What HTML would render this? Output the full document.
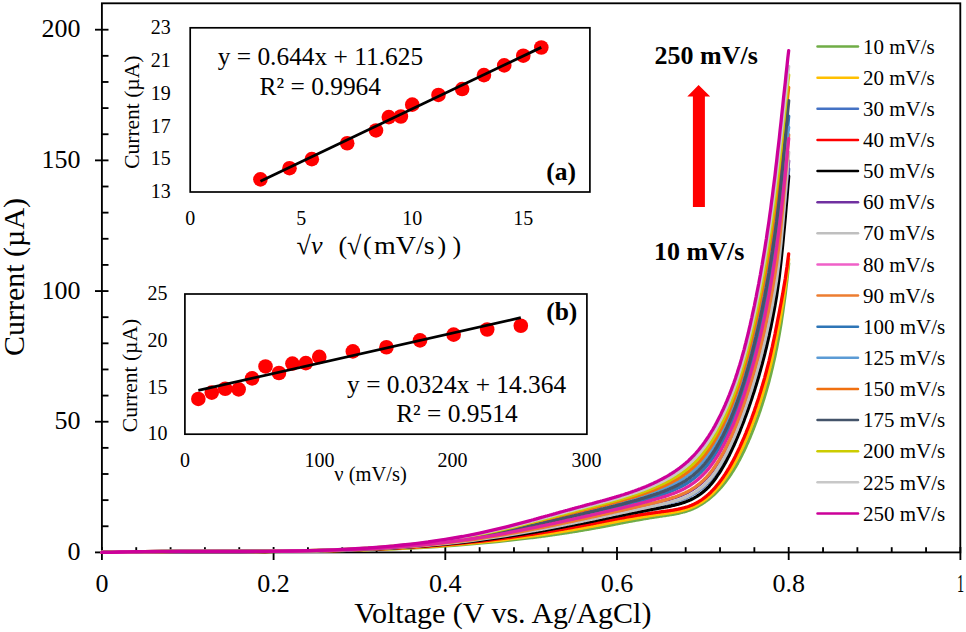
<!DOCTYPE html>
<html><head><meta charset="utf-8"><style>
html,body{margin:0;padding:0;background:#fff;width:966px;height:632px;overflow:hidden;}
svg text{font-family:"Liberation Serif",serif;}
</style></head><body>
<svg width="966" height="632" viewBox="0 0 966 632" style="position:absolute;left:0;top:0">
<rect width="966" height="632" fill="#fff"/>
<g stroke="#000" stroke-width="1.85" fill="none">
<rect x="101.90" y="3.3" width="858.40" height="549.10"/>
<line x1="95" y1="552.40" x2="108.5" y2="552.40"/>
<line x1="101.9" y1="526.26" x2="108.5" y2="526.26"/>
<line x1="101.9" y1="500.13" x2="108.5" y2="500.13"/>
<line x1="101.9" y1="474.00" x2="108.5" y2="474.00"/>
<line x1="101.9" y1="447.86" x2="108.5" y2="447.86"/>
<line x1="95" y1="421.72" x2="108.5" y2="421.72"/>
<line x1="101.9" y1="395.59" x2="108.5" y2="395.59"/>
<line x1="101.9" y1="369.45" x2="108.5" y2="369.45"/>
<line x1="101.9" y1="343.32" x2="108.5" y2="343.32"/>
<line x1="101.9" y1="317.18" x2="108.5" y2="317.18"/>
<line x1="95" y1="291.05" x2="108.5" y2="291.05"/>
<line x1="101.9" y1="264.91" x2="108.5" y2="264.91"/>
<line x1="101.9" y1="238.78" x2="108.5" y2="238.78"/>
<line x1="101.9" y1="212.64" x2="108.5" y2="212.64"/>
<line x1="101.9" y1="186.51" x2="108.5" y2="186.51"/>
<line x1="95" y1="160.37" x2="108.5" y2="160.37"/>
<line x1="101.9" y1="134.24" x2="108.5" y2="134.24"/>
<line x1="101.9" y1="108.10" x2="108.5" y2="108.10"/>
<line x1="101.9" y1="81.97" x2="108.5" y2="81.97"/>
<line x1="101.9" y1="55.83" x2="108.5" y2="55.83"/>
<line x1="95" y1="29.70" x2="108.5" y2="29.70"/>
<line x1="101.90" y1="547" x2="101.90" y2="560"/>
<line x1="136.24" y1="547.2" x2="136.24" y2="552.4"/>
<line x1="170.58" y1="547.2" x2="170.58" y2="552.4"/>
<line x1="204.92" y1="547.2" x2="204.92" y2="552.4"/>
<line x1="239.26" y1="547.2" x2="239.26" y2="552.4"/>
<line x1="273.60" y1="547" x2="273.60" y2="560"/>
<line x1="307.94" y1="547.2" x2="307.94" y2="552.4"/>
<line x1="342.28" y1="547.2" x2="342.28" y2="552.4"/>
<line x1="376.62" y1="547.2" x2="376.62" y2="552.4"/>
<line x1="410.96" y1="547.2" x2="410.96" y2="552.4"/>
<line x1="445.30" y1="547" x2="445.30" y2="560"/>
<line x1="479.64" y1="547.2" x2="479.64" y2="552.4"/>
<line x1="513.98" y1="547.2" x2="513.98" y2="552.4"/>
<line x1="548.32" y1="547.2" x2="548.32" y2="552.4"/>
<line x1="582.66" y1="547.2" x2="582.66" y2="552.4"/>
<line x1="617.00" y1="547" x2="617.00" y2="560"/>
<line x1="651.34" y1="547.2" x2="651.34" y2="552.4"/>
<line x1="685.68" y1="547.2" x2="685.68" y2="552.4"/>
<line x1="720.02" y1="547.2" x2="720.02" y2="552.4"/>
<line x1="754.36" y1="547.2" x2="754.36" y2="552.4"/>
<line x1="788.70" y1="547" x2="788.70" y2="560"/>
<line x1="823.04" y1="547.2" x2="823.04" y2="552.4"/>
<line x1="857.38" y1="547.2" x2="857.38" y2="552.4"/>
<line x1="891.72" y1="547.2" x2="891.72" y2="552.4"/>
<line x1="926.06" y1="547.2" x2="926.06" y2="552.4"/>
<line x1="960.40" y1="547" x2="960.40" y2="560"/>
</g>
<polyline points="101.9,552.4 110.5,552.2 119.1,552.1 127.7,552.1 136.2,552.0 144.8,551.9 153.4,551.9 162.0,551.9 170.6,551.8 179.2,551.8 187.8,551.8 196.3,551.8 204.9,551.7 213.5,551.7 222.1,551.7 230.7,551.7 239.3,551.6 247.8,551.6 256.4,551.6 265.0,551.5 273.6,551.5 282.2,551.4 290.8,551.3 299.4,551.2 307.9,551.1 316.5,551.0 325.1,550.8 333.7,550.6 342.3,550.5 350.9,550.2 359.5,550.0 368.0,549.7 376.6,549.4 385.2,549.1 393.8,548.8 402.4,548.4 411.0,548.0 419.5,547.5 428.1,547.0 436.7,546.5 445.3,545.9 453.9,545.3 462.5,544.6 471.1,543.9 479.6,543.2 488.2,542.4 496.8,541.6 505.4,540.7 514.0,539.7 522.6,538.7 531.1,537.7 532.0,537.6 532.9,537.5 533.7,537.4 534.6,537.3 535.4,537.1 536.3,537.0 537.2,536.9 538.0,536.8 538.9,536.7 539.7,536.6 540.6,536.5 541.5,536.4 542.3,536.2 543.2,536.1 544.0,536.0 544.9,535.9 545.7,535.8 546.6,535.7 547.5,535.5 548.3,535.4 549.2,535.3 550.0,535.2 550.9,535.1 551.8,534.9 552.6,534.8 553.5,534.7 554.3,534.6 555.2,534.4 556.0,534.3 556.9,534.2 557.8,534.1 558.6,533.9 559.5,533.8 560.3,533.7 561.2,533.6 562.1,533.4 562.9,533.3 563.8,533.2 564.6,533.0 565.5,532.9 566.3,532.8 567.2,532.6 568.1,532.5 568.9,532.4 569.8,532.2 570.6,532.1 571.5,532.0 572.4,531.8 573.2,531.7 574.1,531.6 574.9,531.4 575.8,531.3 576.7,531.1 577.5,531.0 578.4,530.9 579.2,530.7 580.1,530.6 580.9,530.4 581.8,530.3 582.7,530.1 583.5,530.0 584.4,529.8 585.2,529.7 586.1,529.5 587.0,529.4 587.8,529.3 588.7,529.1 589.5,529.0 590.4,528.8 591.2,528.6 592.1,528.5 593.0,528.3 593.8,528.2 594.7,528.0 595.5,527.9 596.4,527.7 597.3,527.6 598.1,527.4 599.0,527.3 599.8,527.1 600.7,526.9 601.5,526.8 602.4,526.6 603.3,526.5 604.1,526.3 605.0,526.1 605.8,526.0 606.7,525.8 607.6,525.6 608.4,525.5 609.3,525.3 610.1,525.1 611.0,525.0 611.8,524.8 612.7,524.6 613.6,524.5 614.4,524.3 615.3,524.2 616.1,524.0 617.0,523.8 617.9,523.7 618.7,523.5 619.6,523.3 620.4,523.2 621.3,523.0 622.2,522.8 623.0,522.7 623.9,522.5 624.7,522.3 625.6,522.2 626.4,522.0 627.3,521.8 628.2,521.7 629.0,521.5 629.9,521.3 630.7,521.2 631.6,521.0 632.5,520.9 633.3,520.7 634.2,520.5 635.0,520.4 635.9,520.2 636.7,520.1 637.6,519.9 638.5,519.8 639.3,519.6 640.2,519.5 641.0,519.3 641.9,519.1 642.8,519.0 643.6,518.8 644.5,518.7 645.3,518.6 646.2,518.4 647.0,518.3 647.9,518.1 648.8,518.0 649.6,517.8 650.5,517.7 651.3,517.6 652.2,517.4 653.1,517.3 653.9,517.1 654.8,517.0 655.6,516.9 656.5,516.8 657.3,516.6 658.2,516.5 659.1,516.4 659.9,516.2 660.8,516.1 661.6,516.0 662.5,515.9 663.4,515.7 664.2,515.6 665.1,515.5 665.9,515.4 666.8,515.2 667.7,515.1 668.5,515.0 669.4,514.8 670.2,514.7 671.1,514.6 671.9,514.4 672.8,514.3 673.7,514.1 674.5,514.0 675.4,513.8 676.2,513.6 677.1,513.5 678.0,513.3 678.8,513.1 679.7,512.9 680.5,512.7 681.4,512.5 682.2,512.3 683.1,512.0 684.0,511.8 684.8,511.6 685.7,511.3 686.5,511.1 687.4,510.8 688.3,510.5 689.1,510.2 690.0,509.9 690.8,509.6 691.7,509.2 692.5,508.9 693.4,508.5 694.3,508.1 695.1,507.7 696.0,507.3 696.8,506.8 697.7,506.4 698.6,505.9 699.4,505.4 700.3,504.9 701.1,504.4 702.0,503.8 702.9,503.3 703.7,502.7 704.6,502.1 705.4,501.5 706.3,500.9 707.1,500.3 708.0,499.6 708.9,498.9 709.7,498.2 710.6,497.5 711.4,496.8 712.3,496.0 713.2,495.3 714.0,494.5 714.9,493.7 715.7,492.8 716.6,492.0 717.4,491.1 718.3,490.2 719.2,489.3 720.0,488.3 720.9,487.4 721.7,486.4 722.6,485.4 723.5,484.3 724.3,483.3 725.2,482.2 726.0,481.0 726.9,479.9 727.7,478.7 728.6,477.5 729.5,476.3 730.3,475.0 731.2,473.7 732.0,472.4 732.9,471.1 733.8,469.7 734.6,468.3 735.5,466.8 736.3,465.4 737.2,463.9 738.0,462.3 738.9,460.7 739.8,459.1 740.6,457.5 741.5,455.8 742.3,454.1 743.2,452.3 744.1,450.5 744.9,448.7 745.8,446.8 746.6,444.9 747.5,443.0 748.4,441.0 749.2,439.0 750.1,437.0 750.9,434.9 751.8,432.8 752.6,430.6 753.5,428.5 754.4,426.2 755.2,424.0 756.1,421.7 756.9,419.4 757.8,417.0 758.7,414.6 759.5,412.1 760.4,409.6 761.2,407.0 762.1,404.4 762.9,401.7 763.8,398.9 764.7,396.1 765.5,393.3 766.4,390.3 767.2,387.3 768.1,384.2 769.0,381.0 769.8,377.7 770.7,374.4 771.5,370.9 772.4,367.3 773.2,363.7 774.1,359.9 775.0,355.9 775.8,351.8 776.7,347.6 777.5,343.2 778.4,338.6 779.3,333.8 780.1,328.9 781.0,323.7 781.8,318.2 782.7,312.5 783.5,306.5 784.4,300.2 785.3,293.6 786.1,286.6 787.0,279.2 787.8,271.5 788.7,263.4" fill="none" stroke="#70AD47" stroke-width="3.3" stroke-linejoin="round" stroke-linecap="round"/>
<polyline points="101.9,552.4 110.5,552.2 119.1,552.1 127.7,552.0 136.2,552.0 144.8,551.9 153.4,551.9 162.0,551.8 170.6,551.8 179.2,551.8 187.8,551.7 196.3,551.7 204.9,551.7 213.5,551.7 222.1,551.7 230.7,551.6 239.3,551.6 247.8,551.6 256.4,551.6 265.0,551.5 273.6,551.4 282.2,551.4 290.8,551.3 299.4,551.2 307.9,551.1 316.5,550.9 325.1,550.8 333.7,550.6 342.3,550.4 350.9,550.1 359.5,549.9 368.0,549.6 376.6,549.2 385.2,548.9 393.8,548.5 402.4,548.1 411.0,547.6 419.5,547.1 428.1,546.6 436.7,546.0 445.3,545.3 453.9,544.6 462.5,543.9 471.1,543.1 479.6,542.3 488.2,541.4 496.8,540.5 505.4,539.5 514.0,538.4 522.6,537.3 531.1,536.1 532.0,536.0 532.9,535.9 533.7,535.8 534.6,535.6 535.4,535.5 536.3,535.4 537.2,535.3 538.0,535.2 538.9,535.0 539.7,534.9 540.6,534.8 541.5,534.7 542.3,534.5 543.2,534.4 544.0,534.3 544.9,534.1 545.7,534.0 546.6,533.9 547.5,533.8 548.3,533.6 549.2,533.5 550.0,533.4 550.9,533.2 551.8,533.1 552.6,533.0 553.5,532.8 554.3,532.7 555.2,532.6 556.0,532.4 556.9,532.3 557.8,532.2 558.6,532.0 559.5,531.9 560.3,531.8 561.2,531.6 562.1,531.5 562.9,531.3 563.8,531.2 564.6,531.1 565.5,530.9 566.3,530.8 567.2,530.6 568.1,530.5 568.9,530.3 569.8,530.2 570.6,530.1 571.5,529.9 572.4,529.8 573.2,529.6 574.1,529.5 574.9,529.3 575.8,529.2 576.7,529.0 577.5,528.9 578.4,528.7 579.2,528.6 580.1,528.4 580.9,528.3 581.8,528.1 582.7,528.0 583.5,527.8 584.4,527.7 585.2,527.5 586.1,527.4 587.0,527.2 587.8,527.0 588.7,526.9 589.5,526.7 590.4,526.6 591.2,526.4 592.1,526.3 593.0,526.1 593.8,525.9 594.7,525.8 595.5,525.6 596.4,525.4 597.3,525.3 598.1,525.1 599.0,525.0 599.8,524.8 600.7,524.6 601.5,524.5 602.4,524.3 603.3,524.1 604.1,524.0 605.0,523.8 605.8,523.6 606.7,523.5 607.6,523.3 608.4,523.1 609.3,523.0 610.1,522.8 611.0,522.6 611.8,522.5 612.7,522.3 613.6,522.1 614.4,522.0 615.3,521.8 616.1,521.6 617.0,521.5 617.9,521.3 618.7,521.2 619.6,521.0 620.4,520.8 621.3,520.7 622.2,520.5 623.0,520.3 623.9,520.2 624.7,520.0 625.6,519.9 626.4,519.7 627.3,519.5 628.2,519.4 629.0,519.2 629.9,519.1 630.7,518.9 631.6,518.8 632.5,518.6 633.3,518.5 634.2,518.3 635.0,518.2 635.9,518.0 636.7,517.9 637.6,517.7 638.5,517.6 639.3,517.4 640.2,517.3 641.0,517.1 641.9,517.0 642.8,516.8 643.6,516.7 644.5,516.6 645.3,516.4 646.2,516.3 647.0,516.1 647.9,516.0 648.8,515.9 649.6,515.7 650.5,515.6 651.3,515.5 652.2,515.3 653.1,515.2 653.9,515.1 654.8,515.0 655.6,514.8 656.5,514.7 657.3,514.6 658.2,514.5 659.1,514.4 659.9,514.2 660.8,514.1 661.6,514.0 662.5,513.9 663.4,513.8 664.2,513.6 665.1,513.5 665.9,513.4 666.8,513.3 667.7,513.2 668.5,513.0 669.4,512.9 670.2,512.8 671.1,512.6 671.9,512.5 672.8,512.3 673.7,512.2 674.5,512.0 675.4,511.9 676.2,511.7 677.1,511.5 678.0,511.4 678.8,511.2 679.7,511.0 680.5,510.8 681.4,510.6 682.2,510.4 683.1,510.2 684.0,509.9 684.8,509.7 685.7,509.4 686.5,509.2 687.4,508.9 688.3,508.6 689.1,508.3 690.0,508.0 690.8,507.7 691.7,507.3 692.5,507.0 693.4,506.6 694.3,506.2 695.1,505.8 696.0,505.3 696.8,504.9 697.7,504.4 698.6,503.9 699.4,503.4 700.3,502.9 701.1,502.4 702.0,501.8 702.9,501.2 703.7,500.6 704.6,500.0 705.4,499.4 706.3,498.7 707.1,498.0 708.0,497.3 708.9,496.6 709.7,495.9 710.6,495.1 711.4,494.3 712.3,493.5 713.2,492.6 714.0,491.8 714.9,490.9 715.7,490.0 716.6,489.0 717.4,488.1 718.3,487.1 719.2,486.1 720.0,485.0 720.9,484.0 721.7,482.9 722.6,481.8 723.5,480.6 724.3,479.4 725.2,478.2 726.0,477.0 726.9,475.7 727.7,474.4 728.6,473.1 729.5,471.8 730.3,470.4 731.2,469.0 732.0,467.5 732.9,466.1 733.8,464.6 734.6,463.0 735.5,461.5 736.3,459.9 737.2,458.2 738.0,456.6 738.9,454.9 739.8,453.1 740.6,451.4 741.5,449.6 742.3,447.7 743.2,445.9 744.1,444.0 744.9,442.0 745.8,440.1 746.6,438.1 747.5,436.0 748.4,434.0 749.2,431.8 750.1,429.7 750.9,427.5 751.8,425.3 752.6,423.0 753.5,420.8 754.4,418.4 755.2,416.1 756.1,413.7 756.9,411.2 757.8,408.7 758.7,406.2 759.5,403.6 760.4,400.9 761.2,398.2 762.1,395.5 762.9,392.7 763.8,389.8 764.7,386.9 765.5,383.9 766.4,380.8 767.2,377.6 768.1,374.4 769.0,371.1 769.8,367.7 770.7,364.2 771.5,360.6 772.4,356.9 773.2,353.0 774.1,349.1 775.0,345.0 775.8,340.8 776.7,336.5 777.5,332.1 778.4,327.6 779.3,323.1 780.1,318.4 781.0,313.6 781.8,308.6 782.7,303.4 783.5,298.0 784.4,292.3 785.3,286.4 786.1,280.1 787.0,273.5 787.8,266.5 788.7,259.1" fill="none" stroke="#FFC000" stroke-width="3.3" stroke-linejoin="round" stroke-linecap="round"/>
<polyline points="101.9,552.4 110.5,552.2 119.1,552.1 127.7,552.0 136.2,551.9 144.8,551.8 153.4,551.7 162.0,551.7 170.6,551.7 179.2,551.6 187.8,551.6 196.3,551.6 204.9,551.6 213.5,551.6 222.1,551.6 230.7,551.6 239.3,551.5 247.8,551.5 256.4,551.5 265.0,551.4 273.6,551.4 282.2,551.3 290.8,551.2 299.4,551.1 307.9,550.9 316.5,550.8 325.1,550.6 333.7,550.3 342.3,550.1 350.9,549.8 359.5,549.5 368.0,549.1 376.6,548.7 385.2,548.2 393.8,547.7 402.4,547.2 411.0,546.6 419.5,545.9 428.1,545.2 436.7,544.4 445.3,543.6 453.9,542.7 462.5,541.7 471.1,540.7 479.6,539.5 488.2,538.4 496.8,537.1 505.4,535.8 514.0,534.4 522.6,532.9 531.1,531.4 532.0,531.3 532.9,531.1 533.7,530.9 534.6,530.8 535.4,530.6 536.3,530.5 537.2,530.3 538.0,530.2 538.9,530.0 539.7,529.8 540.6,529.7 541.5,529.5 542.3,529.4 543.2,529.2 544.0,529.0 544.9,528.9 545.7,528.7 546.6,528.6 547.5,528.4 548.3,528.2 549.2,528.1 550.0,527.9 550.9,527.7 551.8,527.6 552.6,527.4 553.5,527.3 554.3,527.1 555.2,526.9 556.0,526.8 556.9,526.6 557.8,526.4 558.6,526.3 559.5,526.1 560.3,525.9 561.2,525.8 562.1,525.6 562.9,525.4 563.8,525.2 564.6,525.1 565.5,524.9 566.3,524.7 567.2,524.6 568.1,524.4 568.9,524.2 569.8,524.1 570.6,523.9 571.5,523.7 572.4,523.5 573.2,523.4 574.1,523.2 574.9,523.0 575.8,522.8 576.7,522.7 577.5,522.5 578.4,522.3 579.2,522.1 580.1,522.0 580.9,521.8 581.8,521.6 582.7,521.4 583.5,521.3 584.4,521.1 585.2,520.9 586.1,520.7 587.0,520.6 587.8,520.4 588.7,520.2 589.5,520.0 590.4,519.9 591.2,519.7 592.1,519.5 593.0,519.3 593.8,519.1 594.7,518.9 595.5,518.8 596.4,518.6 597.3,518.4 598.1,518.2 599.0,518.0 599.8,517.8 600.7,517.7 601.5,517.5 602.4,517.3 603.3,517.1 604.1,516.9 605.0,516.7 605.8,516.6 606.7,516.4 607.6,516.2 608.4,516.0 609.3,515.8 610.1,515.6 611.0,515.5 611.8,515.3 612.7,515.1 613.6,514.9 614.4,514.7 615.3,514.5 616.1,514.4 617.0,514.2 617.9,514.0 618.7,513.8 619.6,513.6 620.4,513.5 621.3,513.3 622.2,513.1 623.0,512.9 623.9,512.7 624.7,512.5 625.6,512.4 626.4,512.2 627.3,512.0 628.2,511.8 629.0,511.6 629.9,511.5 630.7,511.3 631.6,511.1 632.5,510.9 633.3,510.8 634.2,510.6 635.0,510.4 635.9,510.2 636.7,510.0 637.6,509.9 638.5,509.7 639.3,509.5 640.2,509.3 641.0,509.1 641.9,509.0 642.8,508.8 643.6,508.6 644.5,508.4 645.3,508.3 646.2,508.1 647.0,507.9 647.9,507.7 648.8,507.5 649.6,507.4 650.5,507.2 651.3,507.0 652.2,506.8 653.1,506.7 653.9,506.5 654.8,506.3 655.6,506.1 656.5,505.9 657.3,505.8 658.2,505.6 659.1,505.4 659.9,505.2 660.8,505.0 661.6,504.9 662.5,504.7 663.4,504.5 664.2,504.3 665.1,504.1 665.9,503.9 666.8,503.7 667.7,503.5 668.5,503.3 669.4,503.1 670.2,502.9 671.1,502.7 671.9,502.5 672.8,502.2 673.7,502.0 674.5,501.8 675.4,501.5 676.2,501.3 677.1,501.0 678.0,500.7 678.8,500.5 679.7,500.2 680.5,499.9 681.4,499.6 682.2,499.3 683.1,499.0 684.0,498.6 684.8,498.3 685.7,497.9 686.5,497.6 687.4,497.2 688.3,496.8 689.1,496.4 690.0,496.0 690.8,495.5 691.7,495.1 692.5,494.6 693.4,494.1 694.3,493.6 695.1,493.1 696.0,492.5 696.8,491.9 697.7,491.4 698.6,490.7 699.4,490.1 700.3,489.5 701.1,488.8 702.0,488.1 702.9,487.4 703.7,486.6 704.6,485.9 705.4,485.1 706.3,484.2 707.1,483.3 708.0,482.4 708.9,481.5 709.7,480.5 710.6,479.5 711.4,478.5 712.3,477.4 713.2,476.3 714.0,475.1 714.9,474.0 715.7,472.8 716.6,471.5 717.4,470.2 718.3,468.9 719.2,467.6 720.0,466.2 720.9,464.8 721.7,463.3 722.6,461.8 723.5,460.3 724.3,458.7 725.2,457.2 726.0,455.5 726.9,453.9 727.7,452.2 728.6,450.4 729.5,448.7 730.3,446.9 731.2,445.0 732.0,443.2 732.9,441.3 733.8,439.3 734.6,437.3 735.5,435.3 736.3,433.3 737.2,431.2 738.0,429.1 738.9,426.9 739.8,424.7 740.6,422.5 741.5,420.2 742.3,417.9 743.2,415.6 744.1,413.2 744.9,410.8 745.8,408.4 746.6,405.9 747.5,403.5 748.4,400.9 749.2,398.3 750.1,395.7 750.9,393.0 751.8,390.3 752.6,387.6 753.5,384.8 754.4,382.0 755.2,379.1 756.1,376.2 756.9,373.2 757.8,370.2 758.7,367.1 759.5,364.0 760.4,360.8 761.2,357.5 762.1,354.1 762.9,350.7 763.8,347.2 764.7,343.6 765.5,340.0 766.4,336.2 767.2,332.3 768.1,328.4 769.0,324.3 769.8,320.1 770.7,315.8 771.5,311.4 772.4,306.8 773.2,302.1 774.1,297.3 775.0,292.3 775.8,287.1 776.7,281.7 777.5,275.9 778.4,269.6 779.3,263.0 780.1,256.0 781.0,248.6 781.8,240.9 782.7,232.8 783.5,224.4 784.4,215.7 785.3,206.7 786.1,197.5 787.0,188.0 787.8,178.4 788.7,168.8" fill="none" stroke="#4472C4" stroke-width="3.3" stroke-linejoin="round" stroke-linecap="round"/>
<polyline points="101.9,552.4 110.5,552.2 119.1,552.1 127.7,552.0 136.2,551.9 144.8,551.9 153.4,551.8 162.0,551.8 170.6,551.7 179.2,551.7 187.8,551.7 196.3,551.7 204.9,551.7 213.5,551.6 222.1,551.6 230.7,551.6 239.3,551.6 247.8,551.6 256.4,551.5 265.0,551.5 273.6,551.4 282.2,551.3 290.8,551.3 299.4,551.1 307.9,551.0 316.5,550.9 325.1,550.7 333.7,550.5 342.3,550.3 350.9,550.0 359.5,549.7 368.0,549.4 376.6,549.0 385.2,548.6 393.8,548.2 402.4,547.7 411.0,547.2 419.5,546.7 428.1,546.0 436.7,545.4 445.3,544.7 453.9,543.9 462.5,543.1 471.1,542.2 479.6,541.3 488.2,540.3 496.8,539.2 505.4,538.1 514.0,536.9 522.6,535.7 531.1,534.4 532.0,534.3 532.9,534.1 533.7,534.0 534.6,533.9 535.4,533.7 536.3,533.6 537.2,533.4 538.0,533.3 538.9,533.2 539.7,533.0 540.6,532.9 541.5,532.8 542.3,532.6 543.2,532.5 544.0,532.3 544.9,532.2 545.7,532.1 546.6,531.9 547.5,531.8 548.3,531.6 549.2,531.5 550.0,531.4 550.9,531.2 551.8,531.1 552.6,530.9 553.5,530.8 554.3,530.6 555.2,530.5 556.0,530.3 556.9,530.2 557.8,530.0 558.6,529.9 559.5,529.7 560.3,529.6 561.2,529.4 562.1,529.3 562.9,529.1 563.8,529.0 564.6,528.8 565.5,528.7 566.3,528.5 567.2,528.4 568.1,528.2 568.9,528.1 569.8,527.9 570.6,527.8 571.5,527.6 572.4,527.5 573.2,527.3 574.1,527.2 574.9,527.0 575.8,526.8 576.7,526.7 577.5,526.5 578.4,526.4 579.2,526.2 580.1,526.0 580.9,525.9 581.8,525.7 582.7,525.6 583.5,525.4 584.4,525.2 585.2,525.1 586.1,524.9 587.0,524.7 587.8,524.6 588.7,524.4 589.5,524.3 590.4,524.1 591.2,523.9 592.1,523.8 593.0,523.6 593.8,523.4 594.7,523.3 595.5,523.1 596.4,522.9 597.3,522.7 598.1,522.6 599.0,522.4 599.8,522.2 600.7,522.1 601.5,521.9 602.4,521.7 603.3,521.5 604.1,521.4 605.0,521.2 605.8,521.0 606.7,520.9 607.6,520.7 608.4,520.5 609.3,520.4 610.1,520.2 611.0,520.0 611.8,519.9 612.7,519.7 613.6,519.5 614.4,519.4 615.3,519.2 616.1,519.0 617.0,518.9 617.9,518.7 618.7,518.6 619.6,518.4 620.4,518.2 621.3,518.1 622.2,517.9 623.0,517.8 623.9,517.6 624.7,517.5 625.6,517.3 626.4,517.2 627.3,517.0 628.2,516.8 629.0,516.7 629.9,516.5 630.7,516.4 631.6,516.3 632.5,516.1 633.3,516.0 634.2,515.8 635.0,515.7 635.9,515.5 636.7,515.4 637.6,515.2 638.5,515.1 639.3,515.0 640.2,514.8 641.0,514.7 641.9,514.6 642.8,514.4 643.6,514.3 644.5,514.2 645.3,514.0 646.2,513.9 647.0,513.8 647.9,513.6 648.8,513.5 649.6,513.4 650.5,513.3 651.3,513.1 652.2,513.0 653.1,512.9 653.9,512.8 654.8,512.7 655.6,512.5 656.5,512.4 657.3,512.3 658.2,512.2 659.1,512.1 659.9,512.0 660.8,511.9 661.6,511.7 662.5,511.6 663.4,511.5 664.2,511.4 665.1,511.3 665.9,511.2 666.8,511.1 667.7,510.9 668.5,510.8 669.4,510.7 670.2,510.6 671.1,510.4 671.9,510.3 672.8,510.2 673.7,510.0 674.5,509.9 675.4,509.7 676.2,509.6 677.1,509.4 678.0,509.2 678.8,509.0 679.7,508.9 680.5,508.7 681.4,508.5 682.2,508.2 683.1,508.0 684.0,507.8 684.8,507.5 685.7,507.3 686.5,507.0 687.4,506.8 688.3,506.5 689.1,506.2 690.0,505.8 690.8,505.5 691.7,505.2 692.5,504.8 693.4,504.4 694.3,504.0 695.1,503.6 696.0,503.1 696.8,502.7 697.7,502.2 698.6,501.7 699.4,501.2 700.3,500.6 701.1,500.1 702.0,499.5 702.9,498.9 703.7,498.3 704.6,497.6 705.4,496.9 706.3,496.2 707.1,495.5 708.0,494.8 708.9,494.0 709.7,493.2 710.6,492.4 711.4,491.5 712.3,490.6 713.2,489.7 714.0,488.8 714.9,487.8 715.7,486.9 716.6,485.8 717.4,484.8 718.3,483.7 719.2,482.6 720.0,481.5 720.9,480.3 721.7,479.2 722.6,477.9 723.5,476.7 724.3,475.4 725.2,474.1 726.0,472.8 726.9,471.4 727.7,470.0 728.6,468.6 729.5,467.1 730.3,465.6 731.2,464.1 732.0,462.6 732.9,461.0 733.8,459.4 734.6,457.7 735.5,456.0 736.3,454.3 737.2,452.6 738.0,450.8 738.9,449.0 739.8,447.1 740.6,445.2 741.5,443.3 742.3,441.4 743.2,439.4 744.1,437.4 744.9,435.4 745.8,433.3 746.6,431.2 747.5,429.1 748.4,426.9 749.2,424.7 750.1,422.4 750.9,420.2 751.8,417.8 752.6,415.5 753.5,413.1 754.4,410.6 755.2,408.1 756.1,405.6 756.9,403.1 757.8,400.4 758.7,397.8 759.5,395.1 760.4,392.3 761.2,389.5 762.1,386.6 762.9,383.7 763.8,380.7 764.7,377.6 765.5,374.5 766.4,371.2 767.2,368.0 768.1,364.6 769.0,361.1 769.8,357.6 770.7,354.0 771.5,350.2 772.4,346.4 773.2,342.4 774.1,338.3 775.0,334.1 775.8,329.8 776.7,325.4 777.5,321.0 778.4,316.6 779.3,312.2 780.1,307.8 781.0,303.2 781.8,298.6 782.7,293.9 783.5,288.9 784.4,283.8 785.3,278.5 786.1,272.8 787.0,266.8 787.8,260.5 788.7,253.8" fill="none" stroke="#FF0000" stroke-width="3.3" stroke-linejoin="round" stroke-linecap="round"/>
<polyline points="101.9,552.4 110.5,552.2 119.1,552.1 127.7,552.0 136.2,551.9 144.8,551.8 153.4,551.8 162.0,551.7 170.6,551.7 179.2,551.7 187.8,551.6 196.3,551.6 204.9,551.6 213.5,551.6 222.1,551.6 230.7,551.6 239.3,551.6 247.8,551.5 256.4,551.5 265.0,551.5 273.6,551.4 282.2,551.3 290.8,551.2 299.4,551.1 307.9,551.0 316.5,550.8 325.1,550.6 333.7,550.4 342.3,550.2 350.9,549.9 359.5,549.6 368.0,549.2 376.6,548.8 385.2,548.4 393.8,547.9 402.4,547.4 411.0,546.8 419.5,546.2 428.1,545.5 436.7,544.8 445.3,544.0 453.9,543.2 462.5,542.3 471.1,541.3 479.6,540.3 488.2,539.2 496.8,538.0 505.4,536.7 514.0,535.4 522.6,534.1 531.1,532.6 532.0,532.5 532.9,532.4 533.7,532.2 534.6,532.1 535.4,531.9 536.3,531.8 537.2,531.6 538.0,531.5 538.9,531.3 539.7,531.2 540.6,531.0 541.5,530.9 542.3,530.7 543.2,530.6 544.0,530.4 544.9,530.3 545.7,530.1 546.6,530.0 547.5,529.8 548.3,529.7 549.2,529.5 550.0,529.3 550.9,529.2 551.8,529.0 552.6,528.9 553.5,528.7 554.3,528.6 555.2,528.4 556.0,528.2 556.9,528.1 557.8,527.9 558.6,527.8 559.5,527.6 560.3,527.4 561.2,527.3 562.1,527.1 562.9,527.0 563.8,526.8 564.6,526.6 565.5,526.5 566.3,526.3 567.2,526.2 568.1,526.0 568.9,525.8 569.8,525.7 570.6,525.5 571.5,525.3 572.4,525.2 573.2,525.0 574.1,524.8 574.9,524.7 575.8,524.5 576.7,524.3 577.5,524.2 578.4,524.0 579.2,523.8 580.1,523.7 580.9,523.5 581.8,523.3 582.7,523.2 583.5,523.0 584.4,522.8 585.2,522.6 586.1,522.5 587.0,522.3 587.8,522.1 588.7,522.0 589.5,521.8 590.4,521.6 591.2,521.4 592.1,521.3 593.0,521.1 593.8,520.9 594.7,520.7 595.5,520.6 596.4,520.4 597.3,520.2 598.1,520.0 599.0,519.8 599.8,519.7 600.7,519.5 601.5,519.3 602.4,519.1 603.3,518.9 604.1,518.8 605.0,518.6 605.8,518.4 606.7,518.2 607.6,518.1 608.4,517.9 609.3,517.7 610.1,517.5 611.0,517.3 611.8,517.2 612.7,517.0 613.6,516.8 614.4,516.6 615.3,516.5 616.1,516.3 617.0,516.1 617.9,516.0 618.7,515.8 619.6,515.6 620.4,515.4 621.3,515.3 622.2,515.1 623.0,514.9 623.9,514.8 624.7,514.6 625.6,514.4 626.4,514.2 627.3,514.1 628.2,513.9 629.0,513.7 629.9,513.6 630.7,513.4 631.6,513.2 632.5,513.1 633.3,512.9 634.2,512.7 635.0,512.6 635.9,512.4 636.7,512.3 637.6,512.1 638.5,511.9 639.3,511.8 640.2,511.6 641.0,511.4 641.9,511.3 642.8,511.1 643.6,511.0 644.5,510.8 645.3,510.6 646.2,510.5 647.0,510.3 647.9,510.2 648.8,510.0 649.6,509.9 650.5,509.7 651.3,509.5 652.2,509.4 653.1,509.2 653.9,509.1 654.8,508.9 655.6,508.8 656.5,508.6 657.3,508.5 658.2,508.3 659.1,508.2 659.9,508.0 660.8,507.9 661.6,507.7 662.5,507.6 663.4,507.4 664.2,507.2 665.1,507.1 665.9,506.9 666.8,506.8 667.7,506.6 668.5,506.4 669.4,506.3 670.2,506.1 671.1,505.9 671.9,505.7 672.8,505.5 673.7,505.3 674.5,505.1 675.4,504.9 676.2,504.7 677.1,504.5 678.0,504.3 678.8,504.0 679.7,503.8 680.5,503.5 681.4,503.3 682.2,503.0 683.1,502.7 684.0,502.4 684.8,502.1 685.7,501.8 686.5,501.5 687.4,501.1 688.3,500.8 689.1,500.4 690.0,500.0 690.8,499.7 691.7,499.2 692.5,498.8 693.4,498.4 694.3,497.9 695.1,497.4 696.0,496.9 696.8,496.4 697.7,495.8 698.6,495.3 699.4,494.7 700.3,494.1 701.1,493.4 702.0,492.8 702.9,492.1 703.7,491.4 704.6,490.7 705.4,489.9 706.3,489.2 707.1,488.3 708.0,487.5 708.9,486.6 709.7,485.6 710.6,484.7 711.4,483.7 712.3,482.6 713.2,481.6 714.0,480.5 714.9,479.3 715.7,478.2 716.6,476.9 717.4,475.7 718.3,474.4 719.2,473.1 720.0,471.8 720.9,470.4 721.7,469.0 722.6,467.5 723.5,466.0 724.3,464.5 725.2,463.0 726.0,461.4 726.9,459.8 727.7,458.1 728.6,456.4 729.5,454.7 730.3,452.9 731.2,451.1 732.0,449.3 732.9,447.4 733.8,445.6 734.6,443.6 735.5,441.7 736.3,439.7 737.2,437.6 738.0,435.6 738.9,433.5 739.8,431.4 740.6,429.2 741.5,427.0 742.3,424.8 743.2,422.6 744.1,420.3 744.9,418.0 745.8,415.7 746.6,413.3 747.5,410.9 748.4,408.5 749.2,406.0 750.1,403.5 750.9,401.0 751.8,398.4 752.6,395.8 753.5,393.2 754.4,390.5 755.2,387.8 756.1,385.0 756.9,382.2 757.8,379.3 758.7,376.4 759.5,373.4 760.4,370.3 761.2,367.2 762.1,364.1 762.9,360.8 763.8,357.5 764.7,354.1 765.5,350.6 766.4,347.1 767.2,343.4 768.1,339.6 769.0,335.8 769.8,331.8 770.7,327.7 771.5,323.5 772.4,319.2 773.2,314.7 774.1,310.1 775.0,305.3 775.8,300.4 776.7,295.1 777.5,289.3 778.4,283.1 779.3,276.3 780.1,269.1 781.0,261.4 781.8,253.3 782.7,244.7 783.5,235.8 784.4,226.5 785.3,216.9 786.1,207.0 787.0,196.8 787.8,186.5 788.7,176.1" fill="none" stroke="#000000" stroke-width="3.3" stroke-linejoin="round" stroke-linecap="round"/>
<polyline points="101.9,552.4 110.5,552.2 119.1,552.1 127.7,552.0 136.2,551.9 144.8,551.8 153.4,551.7 162.0,551.7 170.6,551.6 179.2,551.6 187.8,551.6 196.3,551.6 204.9,551.6 213.5,551.6 222.1,551.5 230.7,551.5 239.3,551.5 247.8,551.5 256.4,551.5 265.0,551.4 273.6,551.4 282.2,551.3 290.8,551.2 299.4,551.0 307.9,550.9 316.5,550.7 325.1,550.5 333.7,550.3 342.3,550.0 350.9,549.7 359.5,549.3 368.0,548.9 376.6,548.5 385.2,548.0 393.8,547.5 402.4,546.9 411.0,546.2 419.5,545.5 428.1,544.8 436.7,543.9 445.3,543.0 453.9,542.0 462.5,541.0 471.1,539.9 479.6,538.7 488.2,537.4 496.8,536.0 505.4,534.6 514.0,533.1 522.6,531.5 531.1,529.9 532.0,529.8 532.9,529.6 533.7,529.4 534.6,529.3 535.4,529.1 536.3,528.9 537.2,528.8 538.0,528.6 538.9,528.4 539.7,528.3 540.6,528.1 541.5,527.9 542.3,527.7 543.2,527.6 544.0,527.4 544.9,527.2 545.7,527.1 546.6,526.9 547.5,526.7 548.3,526.5 549.2,526.4 550.0,526.2 550.9,526.0 551.8,525.8 552.6,525.7 553.5,525.5 554.3,525.3 555.2,525.1 556.0,525.0 556.9,524.8 557.8,524.6 558.6,524.4 559.5,524.3 560.3,524.1 561.2,523.9 562.1,523.7 562.9,523.6 563.8,523.4 564.6,523.2 565.5,523.0 566.3,522.8 567.2,522.7 568.1,522.5 568.9,522.3 569.8,522.1 570.6,521.9 571.5,521.8 572.4,521.6 573.2,521.4 574.1,521.2 574.9,521.0 575.8,520.9 576.7,520.7 577.5,520.5 578.4,520.3 579.2,520.1 580.1,519.9 580.9,519.8 581.8,519.6 582.7,519.4 583.5,519.2 584.4,519.0 585.2,518.8 586.1,518.7 587.0,518.5 587.8,518.3 588.7,518.1 589.5,517.9 590.4,517.7 591.2,517.6 592.1,517.4 593.0,517.2 593.8,517.0 594.7,516.8 595.5,516.6 596.4,516.4 597.3,516.2 598.1,516.0 599.0,515.9 599.8,515.7 600.7,515.5 601.5,515.3 602.4,515.1 603.3,514.9 604.1,514.7 605.0,514.5 605.8,514.3 606.7,514.1 607.6,513.9 608.4,513.7 609.3,513.6 610.1,513.4 611.0,513.2 611.8,513.0 612.7,512.8 613.6,512.6 614.4,512.4 615.3,512.2 616.1,512.0 617.0,511.8 617.9,511.6 618.7,511.4 619.6,511.3 620.4,511.1 621.3,510.9 622.2,510.7 623.0,510.5 623.9,510.3 624.7,510.1 625.6,509.9 626.4,509.7 627.3,509.5 628.2,509.3 629.0,509.1 629.9,508.9 630.7,508.7 631.6,508.5 632.5,508.4 633.3,508.2 634.2,508.0 635.0,507.8 635.9,507.6 636.7,507.4 637.6,507.2 638.5,507.0 639.3,506.8 640.2,506.6 641.0,506.4 641.9,506.2 642.8,506.0 643.6,505.8 644.5,505.6 645.3,505.4 646.2,505.2 647.0,505.0 647.9,504.8 648.8,504.6 649.6,504.4 650.5,504.2 651.3,504.0 652.2,503.8 653.1,503.6 653.9,503.3 654.8,503.1 655.6,502.9 656.5,502.7 657.3,502.5 658.2,502.3 659.1,502.1 659.9,501.9 660.8,501.7 661.6,501.4 662.5,501.2 663.4,501.0 664.2,500.8 665.1,500.5 665.9,500.3 666.8,500.1 667.7,499.8 668.5,499.6 669.4,499.3 670.2,499.1 671.1,498.8 671.9,498.6 672.8,498.3 673.7,498.0 674.5,497.7 675.4,497.5 676.2,497.2 677.1,496.9 678.0,496.5 678.8,496.2 679.7,495.9 680.5,495.6 681.4,495.2 682.2,494.9 683.1,494.5 684.0,494.1 684.8,493.7 685.7,493.3 686.5,492.9 687.4,492.5 688.3,492.0 689.1,491.6 690.0,491.1 690.8,490.6 691.7,490.1 692.5,489.5 693.4,489.0 694.3,488.4 695.1,487.9 696.0,487.2 696.8,486.6 697.7,486.0 698.6,485.3 699.4,484.6 700.3,483.9 701.1,483.2 702.0,482.4 702.9,481.7 703.7,480.9 704.6,480.0 705.4,479.2 706.3,478.3 707.1,477.4 708.0,476.4 708.9,475.4 709.7,474.4 710.6,473.3 711.4,472.2 712.3,471.1 713.2,470.0 714.0,468.8 714.9,467.5 715.7,466.3 716.6,465.0 717.4,463.7 718.3,462.3 719.2,460.9 720.0,459.5 720.9,458.0 721.7,456.5 722.6,455.0 723.5,453.4 724.3,451.8 725.2,450.2 726.0,448.5 726.9,446.8 727.7,445.1 728.6,443.3 729.5,441.5 730.3,439.6 731.2,437.7 732.0,435.8 732.9,433.8 733.8,431.8 734.6,429.8 735.5,427.7 736.3,425.6 737.2,423.4 738.0,421.2 738.9,419.0 739.8,416.7 740.6,414.4 741.5,412.0 742.3,409.6 743.2,407.2 744.1,404.7 744.9,402.2 745.8,399.7 746.6,397.1 747.5,394.5 748.4,391.8 749.2,389.1 750.1,386.3 750.9,383.5 751.8,380.6 752.6,377.7 753.5,374.8 754.4,371.8 755.2,368.7 756.1,365.6 756.9,362.5 757.8,359.3 758.7,356.0 759.5,352.7 760.4,349.3 761.2,345.8 762.1,342.2 762.9,338.6 763.8,334.9 764.7,331.1 765.5,327.2 766.4,323.2 767.2,319.1 768.1,314.9 769.0,310.5 769.8,306.1 770.7,301.5 771.5,296.8 772.4,292.0 773.2,287.1 774.1,281.9 775.0,276.7 775.8,271.3 776.7,265.6 777.5,259.7 778.4,253.5 779.3,247.1 780.1,240.4 781.0,233.5 781.8,226.3 782.7,218.8 783.5,211.1 784.4,203.2 785.3,195.1 786.1,186.8 787.0,178.3 787.8,169.6 788.7,160.9" fill="none" stroke="#7030A0" stroke-width="3.3" stroke-linejoin="round" stroke-linecap="round"/>
<polyline points="101.9,552.4 110.5,552.2 119.1,552.1 127.7,552.0 136.2,551.9 144.8,551.8 153.4,551.7 162.0,551.7 170.6,551.6 179.2,551.6 187.8,551.6 196.3,551.6 204.9,551.6 213.5,551.6 222.1,551.6 230.7,551.6 239.3,551.5 247.8,551.5 256.4,551.5 265.0,551.4 273.6,551.4 282.2,551.3 290.8,551.2 299.4,551.1 307.9,550.9 316.5,550.8 325.1,550.6 333.7,550.3 342.3,550.1 350.9,549.8 359.5,549.4 368.0,549.1 376.6,548.6 385.2,548.2 393.8,547.7 402.4,547.1 411.0,546.5 419.5,545.8 428.1,545.1 436.7,544.3 445.3,543.5 453.9,542.6 462.5,541.6 471.1,540.5 479.6,539.4 488.2,538.2 496.8,536.9 505.4,535.6 514.0,534.2 522.6,532.7 531.1,531.2 532.0,531.0 532.9,530.8 533.7,530.7 534.6,530.5 535.4,530.4 536.3,530.2 537.2,530.1 538.0,529.9 538.9,529.7 539.7,529.6 540.6,529.4 541.5,529.3 542.3,529.1 543.2,528.9 544.0,528.8 544.9,528.6 545.7,528.4 546.6,528.3 547.5,528.1 548.3,528.0 549.2,527.8 550.0,527.6 550.9,527.5 551.8,527.3 552.6,527.1 553.5,527.0 554.3,526.8 555.2,526.6 556.0,526.5 556.9,526.3 557.8,526.1 558.6,526.0 559.5,525.8 560.3,525.6 561.2,525.4 562.1,525.3 562.9,525.1 563.8,524.9 564.6,524.8 565.5,524.6 566.3,524.4 567.2,524.2 568.1,524.1 568.9,523.9 569.8,523.7 570.6,523.6 571.5,523.4 572.4,523.2 573.2,523.0 574.1,522.9 574.9,522.7 575.8,522.5 576.7,522.3 577.5,522.2 578.4,522.0 579.2,521.8 580.1,521.6 580.9,521.5 581.8,521.3 582.7,521.1 583.5,520.9 584.4,520.7 585.2,520.6 586.1,520.4 587.0,520.2 587.8,520.0 588.7,519.9 589.5,519.7 590.4,519.5 591.2,519.3 592.1,519.1 593.0,519.0 593.8,518.8 594.7,518.6 595.5,518.4 596.4,518.2 597.3,518.0 598.1,517.9 599.0,517.7 599.8,517.5 600.7,517.3 601.5,517.1 602.4,516.9 603.3,516.7 604.1,516.6 605.0,516.4 605.8,516.2 606.7,516.0 607.6,515.8 608.4,515.6 609.3,515.4 610.1,515.3 611.0,515.1 611.8,514.9 612.7,514.7 613.6,514.5 614.4,514.3 615.3,514.2 616.1,514.0 617.0,513.8 617.9,513.6 618.7,513.4 619.6,513.2 620.4,513.1 621.3,512.9 622.2,512.7 623.0,512.5 623.9,512.3 624.7,512.1 625.6,512.0 626.4,511.8 627.3,511.6 628.2,511.4 629.0,511.2 629.9,511.0 630.7,510.9 631.6,510.7 632.5,510.5 633.3,510.3 634.2,510.1 635.0,510.0 635.9,509.8 636.7,509.6 637.6,509.4 638.5,509.2 639.3,509.0 640.2,508.9 641.0,508.7 641.9,508.5 642.8,508.3 643.6,508.1 644.5,508.0 645.3,507.8 646.2,507.6 647.0,507.4 647.9,507.2 648.8,507.0 649.6,506.9 650.5,506.7 651.3,506.5 652.2,506.3 653.1,506.1 653.9,506.0 654.8,505.8 655.6,505.6 656.5,505.4 657.3,505.2 658.2,505.0 659.1,504.8 659.9,504.7 660.8,504.5 661.6,504.3 662.5,504.1 663.4,503.9 664.2,503.7 665.1,503.5 665.9,503.3 666.8,503.1 667.7,502.9 668.5,502.7 669.4,502.5 670.2,502.3 671.1,502.0 671.9,501.8 672.8,501.6 673.7,501.3 674.5,501.1 675.4,500.8 676.2,500.6 677.1,500.3 678.0,500.0 678.8,499.8 679.7,499.5 680.5,499.2 681.4,498.9 682.2,498.6 683.1,498.2 684.0,497.9 684.8,497.5 685.7,497.2 686.5,496.8 687.4,496.4 688.3,496.0 689.1,495.6 690.0,495.2 690.8,494.7 691.7,494.2 692.5,493.8 693.4,493.3 694.3,492.7 695.1,492.2 696.0,491.6 696.8,491.1 697.7,490.5 698.6,489.8 699.4,489.2 700.3,488.5 701.1,487.8 702.0,487.1 702.9,486.4 703.7,485.7 704.6,484.9 705.4,484.1 706.3,483.2 707.1,482.3 708.0,481.4 708.9,480.5 709.7,479.5 710.6,478.5 711.4,477.4 712.3,476.4 713.2,475.2 714.0,474.1 714.9,472.9 715.7,471.7 716.6,470.4 717.4,469.1 718.3,467.8 719.2,466.5 720.0,465.1 720.9,463.6 721.7,462.2 722.6,460.7 723.5,459.2 724.3,457.6 725.2,456.0 726.0,454.4 726.9,452.7 727.7,451.0 728.6,449.2 729.5,447.5 730.3,445.7 731.2,443.8 732.0,441.9 732.9,440.0 733.8,438.1 734.6,436.1 735.5,434.0 736.3,432.0 737.2,429.9 738.0,427.7 738.9,425.6 739.8,423.4 740.6,421.1 741.5,418.8 742.3,416.5 743.2,414.2 744.1,411.8 744.9,409.4 745.8,407.0 746.6,404.5 747.5,402.0 748.4,399.4 749.2,396.8 750.1,394.1 750.9,391.5 751.8,388.7 752.6,386.0 753.5,383.1 754.4,380.3 755.2,377.4 756.1,374.4 756.9,371.4 757.8,368.4 758.7,365.3 759.5,362.1 760.4,358.8 761.2,355.5 762.1,352.1 762.9,348.7 763.8,345.2 764.7,341.5 765.5,337.8 766.4,334.0 767.2,330.1 768.1,326.1 769.0,322.0 769.8,317.8 770.7,313.4 771.5,309.0 772.4,304.4 773.2,299.6 774.1,294.7 775.0,289.7 775.8,284.5 776.7,278.9 777.5,272.8 778.4,266.1 779.3,258.8 780.1,251.1 781.0,242.8 781.8,234.1 782.7,224.9 783.5,215.3 784.4,205.4 785.3,195.1 786.1,184.6 787.0,173.9 787.8,163.0 788.7,152.2" fill="none" stroke="#BFBFBF" stroke-width="3.3" stroke-linejoin="round" stroke-linecap="round"/>
<polyline points="101.9,552.4 110.5,552.2 119.1,552.1 127.7,552.0 136.2,551.9 144.8,551.8 153.4,551.7 162.0,551.6 170.6,551.6 179.2,551.6 187.8,551.6 196.3,551.6 204.9,551.6 213.5,551.5 222.1,551.5 230.7,551.5 239.3,551.5 247.8,551.5 256.4,551.5 265.0,551.4 273.6,551.3 282.2,551.3 290.8,551.2 299.4,551.0 307.9,550.9 316.5,550.7 325.1,550.5 333.7,550.3 342.3,550.0 350.9,549.7 359.5,549.3 368.0,548.9 376.6,548.5 385.2,548.0 393.8,547.4 402.4,546.8 411.0,546.2 419.5,545.5 428.1,544.7 436.7,543.8 445.3,542.9 453.9,541.9 462.5,540.9 471.1,539.8 479.6,538.5 488.2,537.2 496.8,535.9 505.4,534.4 514.0,532.9 522.6,531.3 531.1,529.7 532.0,529.5 532.9,529.3 533.7,529.2 534.6,529.0 535.4,528.8 536.3,528.7 537.2,528.5 538.0,528.3 538.9,528.2 539.7,528.0 540.6,527.8 541.5,527.6 542.3,527.5 543.2,527.3 544.0,527.1 544.9,527.0 545.7,526.8 546.6,526.6 547.5,526.4 548.3,526.3 549.2,526.1 550.0,525.9 550.9,525.7 551.8,525.6 552.6,525.4 553.5,525.2 554.3,525.0 555.2,524.9 556.0,524.7 556.9,524.5 557.8,524.3 558.6,524.1 559.5,524.0 560.3,523.8 561.2,523.6 562.1,523.4 562.9,523.2 563.8,523.1 564.6,522.9 565.5,522.7 566.3,522.5 567.2,522.3 568.1,522.2 568.9,522.0 569.8,521.8 570.6,521.6 571.5,521.4 572.4,521.3 573.2,521.1 574.1,520.9 574.9,520.7 575.8,520.5 576.7,520.3 577.5,520.2 578.4,520.0 579.2,519.8 580.1,519.6 580.9,519.4 581.8,519.2 582.7,519.1 583.5,518.9 584.4,518.7 585.2,518.5 586.1,518.3 587.0,518.1 587.8,517.9 588.7,517.8 589.5,517.6 590.4,517.4 591.2,517.2 592.1,517.0 593.0,516.8 593.8,516.6 594.7,516.4 595.5,516.3 596.4,516.1 597.3,515.9 598.1,515.7 599.0,515.5 599.8,515.3 600.7,515.1 601.5,514.9 602.4,514.7 603.3,514.5 604.1,514.3 605.0,514.1 605.8,513.9 606.7,513.8 607.6,513.6 608.4,513.4 609.3,513.2 610.1,513.0 611.0,512.8 611.8,512.6 612.7,512.4 613.6,512.2 614.4,512.0 615.3,511.8 616.1,511.6 617.0,511.4 617.9,511.2 618.7,511.1 619.6,510.9 620.4,510.7 621.3,510.5 622.2,510.3 623.0,510.1 623.9,509.9 624.7,509.7 625.6,509.5 626.4,509.3 627.3,509.1 628.2,508.9 629.0,508.7 629.9,508.5 630.7,508.3 631.6,508.1 632.5,507.9 633.3,507.7 634.2,507.5 635.0,507.3 635.9,507.1 636.7,506.9 637.6,506.7 638.5,506.5 639.3,506.3 640.2,506.1 641.0,505.9 641.9,505.7 642.8,505.5 643.6,505.3 644.5,505.1 645.3,504.9 646.2,504.7 647.0,504.5 647.9,504.3 648.8,504.1 649.6,503.9 650.5,503.7 651.3,503.5 652.2,503.2 653.1,503.0 653.9,502.8 654.8,502.6 655.6,502.4 656.5,502.2 657.3,502.0 658.2,501.8 659.1,501.5 659.9,501.3 660.8,501.1 661.6,500.9 662.5,500.6 663.4,500.4 664.2,500.2 665.1,499.9 665.9,499.7 666.8,499.5 667.7,499.2 668.5,499.0 669.4,498.7 670.2,498.5 671.1,498.2 671.9,497.9 672.8,497.6 673.7,497.4 674.5,497.1 675.4,496.8 676.2,496.5 677.1,496.2 678.0,495.8 678.8,495.5 679.7,495.2 680.5,494.8 681.4,494.5 682.2,494.1 683.1,493.7 684.0,493.3 684.8,492.9 685.7,492.5 686.5,492.1 687.4,491.7 688.3,491.2 689.1,490.7 690.0,490.3 690.8,489.8 691.7,489.2 692.5,488.7 693.4,488.1 694.3,487.6 695.1,487.0 696.0,486.4 696.8,485.7 697.7,485.1 698.6,484.4 699.4,483.7 700.3,483.0 701.1,482.3 702.0,481.5 702.9,480.7 703.7,479.9 704.6,479.1 705.4,478.2 706.3,477.3 707.1,476.4 708.0,475.4 708.9,474.4 709.7,473.4 710.6,472.3 711.4,471.2 712.3,470.1 713.2,468.9 714.0,467.7 714.9,466.5 715.7,465.2 716.6,463.9 717.4,462.6 718.3,461.2 719.2,459.8 720.0,458.4 720.9,456.9 721.7,455.4 722.6,453.8 723.5,452.3 724.3,450.7 725.2,449.0 726.0,447.3 726.9,445.6 727.7,443.9 728.6,442.1 729.5,440.3 730.3,438.4 731.2,436.5 732.0,434.6 732.9,432.6 733.8,430.6 734.6,428.5 735.5,426.4 736.3,424.3 737.2,422.1 738.0,419.9 738.9,417.7 739.8,415.4 740.6,413.0 741.5,410.7 742.3,408.3 743.2,405.8 744.1,403.3 744.9,400.8 745.8,398.2 746.6,395.6 747.5,393.0 748.4,390.3 749.2,387.5 750.1,384.7 750.9,381.9 751.8,379.0 752.6,376.1 753.5,373.1 754.4,370.1 755.2,367.0 756.1,363.9 756.9,360.7 757.8,357.5 758.7,354.2 759.5,350.8 760.4,347.3 761.2,343.8 762.1,340.2 762.9,336.6 763.8,332.8 764.7,329.0 765.5,325.0 766.4,321.0 767.2,316.8 768.1,312.6 769.0,308.2 769.8,303.8 770.7,299.2 771.5,294.4 772.4,289.6 773.2,284.5 774.1,279.4 775.0,274.1 775.8,268.6 776.7,262.8 777.5,256.4 778.4,249.5 779.3,242.0 780.1,234.0 781.0,225.6 781.8,216.7 782.7,207.4 783.5,197.7 784.4,187.6 785.3,177.3 786.1,166.8 787.0,156.1 787.8,145.3 788.7,134.6" fill="none" stroke="#ED7D31" stroke-width="3.3" stroke-linejoin="round" stroke-linecap="round"/>
<polyline points="101.9,552.4 110.5,552.3 119.1,552.1 127.7,551.9 136.2,551.8 144.8,551.7 153.4,551.6 162.0,551.6 170.6,551.5 179.2,551.5 187.8,551.5 196.3,551.5 204.9,551.5 213.5,551.5 222.1,551.5 230.7,551.5 239.3,551.5 247.8,551.5 256.4,551.4 265.0,551.4 273.6,551.3 282.2,551.2 290.8,551.1 299.4,551.0 307.9,550.8 316.5,550.6 325.1,550.4 333.7,550.1 342.3,549.8 350.9,549.5 359.5,549.1 368.0,548.6 376.6,548.1 385.2,547.6 393.8,547.0 402.4,546.3 411.0,545.6 419.5,544.8 428.1,543.9 436.7,542.9 445.3,541.9 453.9,540.8 462.5,539.6 471.1,538.3 479.6,537.0 488.2,535.5 496.8,533.9 505.4,532.3 514.0,530.6 522.6,528.8 531.1,527.0 532.0,526.8 532.9,526.6 533.7,526.4 534.6,526.2 535.4,526.0 536.3,525.8 537.2,525.6 538.0,525.5 538.9,525.3 539.7,525.1 540.6,524.9 541.5,524.7 542.3,524.5 543.2,524.3 544.0,524.1 544.9,523.9 545.7,523.7 546.6,523.5 547.5,523.3 548.3,523.2 549.2,523.0 550.0,522.8 550.9,522.6 551.8,522.4 552.6,522.2 553.5,522.0 554.3,521.8 555.2,521.6 556.0,521.4 556.9,521.2 557.8,521.0 558.6,520.8 559.5,520.6 560.3,520.4 561.2,520.2 562.1,520.0 562.9,519.8 563.8,519.6 564.6,519.4 565.5,519.2 566.3,519.0 567.2,518.8 568.1,518.7 568.9,518.5 569.8,518.3 570.6,518.1 571.5,517.9 572.4,517.7 573.2,517.5 574.1,517.3 574.9,517.1 575.8,516.9 576.7,516.7 577.5,516.5 578.4,516.3 579.2,516.1 580.1,515.9 580.9,515.7 581.8,515.5 582.7,515.3 583.5,515.1 584.4,514.9 585.2,514.7 586.1,514.5 587.0,514.3 587.8,514.1 588.7,513.9 589.5,513.7 590.4,513.5 591.2,513.3 592.1,513.1 593.0,512.9 593.8,512.7 594.7,512.5 595.5,512.3 596.4,512.1 597.3,511.9 598.1,511.7 599.0,511.5 599.8,511.3 600.7,511.1 601.5,510.9 602.4,510.7 603.3,510.5 604.1,510.3 605.0,510.1 605.8,509.9 606.7,509.7 607.6,509.4 608.4,509.2 609.3,509.0 610.1,508.8 611.0,508.6 611.8,508.4 612.7,508.2 613.6,508.0 614.4,507.8 615.3,507.6 616.1,507.4 617.0,507.1 617.9,506.9 618.7,506.7 619.6,506.5 620.4,506.3 621.3,506.1 622.2,505.9 623.0,505.6 623.9,505.4 624.7,505.2 625.6,505.0 626.4,504.8 627.3,504.5 628.2,504.3 629.0,504.1 629.9,503.9 630.7,503.7 631.6,503.4 632.5,503.2 633.3,503.0 634.2,502.7 635.0,502.5 635.9,502.3 636.7,502.1 637.6,501.8 638.5,501.6 639.3,501.3 640.2,501.1 641.0,500.9 641.9,500.6 642.8,500.4 643.6,500.1 644.5,499.9 645.3,499.7 646.2,499.4 647.0,499.2 647.9,498.9 648.8,498.6 649.6,498.4 650.5,498.1 651.3,497.9 652.2,497.6 653.1,497.4 653.9,497.1 654.8,496.8 655.6,496.6 656.5,496.3 657.3,496.0 658.2,495.7 659.1,495.4 659.9,495.2 660.8,494.9 661.6,494.6 662.5,494.3 663.4,494.0 664.2,493.7 665.1,493.4 665.9,493.1 666.8,492.8 667.7,492.5 668.5,492.1 669.4,491.8 670.2,491.5 671.1,491.1 671.9,490.8 672.8,490.4 673.7,490.1 674.5,489.7 675.4,489.3 676.2,488.9 677.1,488.5 678.0,488.1 678.8,487.7 679.7,487.3 680.5,486.9 681.4,486.4 682.2,486.0 683.1,485.5 684.0,485.0 684.8,484.5 685.7,484.0 686.5,483.5 687.4,483.0 688.3,482.4 689.1,481.9 690.0,481.3 690.8,480.7 691.7,480.1 692.5,479.4 693.4,478.8 694.3,478.1 695.1,477.4 696.0,476.7 696.8,476.0 697.7,475.2 698.6,474.5 699.4,473.7 700.3,472.8 701.1,472.0 702.0,471.1 702.9,470.2 703.7,469.3 704.6,468.4 705.4,467.4 706.3,466.4 707.1,465.4 708.0,464.3 708.9,463.2 709.7,462.1 710.6,461.0 711.4,459.8 712.3,458.5 713.2,457.3 714.0,456.0 714.9,454.7 715.7,453.3 716.6,452.0 717.4,450.5 718.3,449.1 719.2,447.6 720.0,446.1 720.9,444.5 721.7,442.9 722.6,441.3 723.5,439.7 724.3,438.0 725.2,436.2 726.0,434.5 726.9,432.7 727.7,430.8 728.6,429.0 729.5,427.0 730.3,425.1 731.2,423.1 732.0,421.0 732.9,419.0 733.8,416.8 734.6,414.7 735.5,412.5 736.3,410.2 737.2,407.9 738.0,405.6 738.9,403.2 739.8,400.7 740.6,398.2 741.5,395.7 742.3,393.1 743.2,390.5 744.1,387.8 744.9,385.0 745.8,382.2 746.6,379.4 747.5,376.5 748.4,373.6 749.2,370.6 750.1,367.5 750.9,364.4 751.8,361.2 752.6,358.0 753.5,354.7 754.4,351.4 755.2,348.0 756.1,344.5 756.9,341.0 757.8,337.4 758.7,333.8 759.5,330.1 760.4,326.3 761.2,322.4 762.1,318.4 762.9,314.3 763.8,310.2 764.7,305.9 765.5,301.5 766.4,297.1 767.2,292.5 768.1,287.8 769.0,283.0 769.8,278.0 770.7,273.0 771.5,267.8 772.4,262.4 773.2,256.9 774.1,251.3 775.0,245.5 775.8,239.5 776.7,233.3 777.5,226.7 778.4,219.8 779.3,212.5 780.1,204.9 781.0,197.0 781.8,188.8 782.7,180.3 783.5,171.6 784.4,162.6 785.3,153.5 786.1,144.3 787.0,134.9 787.8,125.5 788.7,116.2" fill="none" stroke="#2E75B6" stroke-width="3.3" stroke-linejoin="round" stroke-linecap="round"/>
<polyline points="101.9,552.4 110.5,552.3 119.1,552.1 127.7,551.9 136.2,551.8 144.8,551.7 153.4,551.6 162.0,551.5 170.6,551.5 179.2,551.5 187.8,551.4 196.3,551.4 204.9,551.4 213.5,551.4 222.1,551.4 230.7,551.4 239.3,551.4 247.8,551.4 256.4,551.4 265.0,551.3 273.6,551.3 282.2,551.2 290.8,551.1 299.4,550.9 307.9,550.8 316.5,550.6 325.1,550.3 333.7,550.0 342.3,549.7 350.9,549.3 359.5,548.9 368.0,548.4 376.6,547.9 385.2,547.3 393.8,546.6 402.4,545.9 411.0,545.1 419.5,544.2 428.1,543.2 436.7,542.2 445.3,541.1 453.9,539.9 462.5,538.6 471.1,537.2 479.6,535.7 488.2,534.1 496.8,532.3 505.4,530.5 514.0,528.7 522.6,526.7 531.1,524.7 532.0,524.5 532.9,524.3 533.7,524.1 534.6,523.9 535.4,523.7 536.3,523.5 537.2,523.3 538.0,523.1 538.9,522.9 539.7,522.7 540.6,522.5 541.5,522.3 542.3,522.1 543.2,521.9 544.0,521.7 544.9,521.4 545.7,521.2 546.6,521.0 547.5,520.8 548.3,520.6 549.2,520.4 550.0,520.2 550.9,520.0 551.8,519.8 552.6,519.6 553.5,519.4 554.3,519.1 555.2,518.9 556.0,518.7 556.9,518.5 557.8,518.3 558.6,518.1 559.5,517.9 560.3,517.7 561.2,517.5 562.1,517.3 562.9,517.0 563.8,516.8 564.6,516.6 565.5,516.4 566.3,516.2 567.2,516.0 568.1,515.8 568.9,515.6 569.8,515.4 570.6,515.1 571.5,514.9 572.4,514.7 573.2,514.5 574.1,514.3 574.9,514.1 575.8,513.9 576.7,513.7 577.5,513.5 578.4,513.3 579.2,513.1 580.1,512.8 580.9,512.6 581.8,512.4 582.7,512.2 583.5,512.0 584.4,511.8 585.2,511.6 586.1,511.4 587.0,511.2 587.8,511.0 588.7,510.8 589.5,510.6 590.4,510.3 591.2,510.1 592.1,509.9 593.0,509.7 593.8,509.5 594.7,509.3 595.5,509.1 596.4,508.9 597.3,508.7 598.1,508.4 599.0,508.2 599.8,508.0 600.7,507.8 601.5,507.6 602.4,507.4 603.3,507.2 604.1,506.9 605.0,506.7 605.8,506.5 606.7,506.3 607.6,506.1 608.4,505.9 609.3,505.6 610.1,505.4 611.0,505.2 611.8,505.0 612.7,504.8 613.6,504.5 614.4,504.3 615.3,504.1 616.1,503.9 617.0,503.6 617.9,503.4 618.7,503.2 619.6,502.9 620.4,502.7 621.3,502.5 622.2,502.2 623.0,502.0 623.9,501.8 624.7,501.5 625.6,501.3 626.4,501.1 627.3,500.8 628.2,500.6 629.0,500.3 629.9,500.1 630.7,499.8 631.6,499.6 632.5,499.3 633.3,499.1 634.2,498.8 635.0,498.6 635.9,498.3 636.7,498.1 637.6,497.8 638.5,497.5 639.3,497.3 640.2,497.0 641.0,496.7 641.9,496.5 642.8,496.2 643.6,495.9 644.5,495.6 645.3,495.4 646.2,495.1 647.0,494.8 647.9,494.5 648.8,494.2 649.6,493.9 650.5,493.6 651.3,493.3 652.2,493.0 653.1,492.7 653.9,492.4 654.8,492.1 655.6,491.8 656.5,491.4 657.3,491.1 658.2,490.8 659.1,490.5 659.9,490.1 660.8,489.8 661.6,489.5 662.5,489.1 663.4,488.8 664.2,488.4 665.1,488.0 665.9,487.7 666.8,487.3 667.7,486.9 668.5,486.5 669.4,486.2 670.2,485.8 671.1,485.4 671.9,484.9 672.8,484.5 673.7,484.1 674.5,483.7 675.4,483.2 676.2,482.8 677.1,482.3 678.0,481.8 678.8,481.3 679.7,480.9 680.5,480.3 681.4,479.8 682.2,479.3 683.1,478.8 684.0,478.2 684.8,477.7 685.7,477.1 686.5,476.5 687.4,475.9 688.3,475.2 689.1,474.6 690.0,473.9 690.8,473.3 691.7,472.6 692.5,471.9 693.4,471.1 694.3,470.4 695.1,469.6 696.0,468.8 696.8,468.0 697.7,467.2 698.6,466.3 699.4,465.4 700.3,464.5 701.1,463.6 702.0,462.7 702.9,461.7 703.7,460.7 704.6,459.7 705.4,458.6 706.3,457.5 707.1,456.4 708.0,455.3 708.9,454.1 709.7,452.9 710.6,451.7 711.4,450.4 712.3,449.1 713.2,447.8 714.0,446.4 714.9,445.0 715.7,443.6 716.6,442.2 717.4,440.7 718.3,439.2 719.2,437.6 720.0,436.0 720.9,434.4 721.7,432.7 722.6,431.1 723.5,429.3 724.3,427.6 725.2,425.8 726.0,423.9 726.9,422.1 727.7,420.2 728.6,418.2 729.5,416.2 730.3,414.2 731.2,412.1 732.0,410.0 732.9,407.8 733.8,405.6 734.6,403.3 735.5,401.0 736.3,398.7 737.2,396.3 738.0,393.8 738.9,391.3 739.8,388.7 740.6,386.1 741.5,383.4 742.3,380.7 743.2,377.9 744.1,375.0 744.9,372.1 745.8,369.2 746.6,366.1 747.5,363.0 748.4,359.9 749.2,356.6 750.1,353.4 750.9,350.0 751.8,346.6 752.6,343.1 753.5,339.6 754.4,336.0 755.2,332.3 756.1,328.6 756.9,324.8 757.8,320.9 758.7,316.9 759.5,312.9 760.4,308.7 761.2,304.5 762.1,300.2 762.9,295.8 763.8,291.3 764.7,286.7 765.5,282.0 766.4,277.2 767.2,272.2 768.1,267.2 769.0,262.0 769.8,256.7 770.7,251.2 771.5,245.6 772.4,239.9 773.2,234.1 774.1,228.1 775.0,222.0 775.8,215.7 776.7,209.4 777.5,203.2 778.4,197.1 779.3,191.1 780.1,185.2 781.0,179.4 781.8,173.6 782.7,167.9 783.5,162.2 784.4,156.5 785.3,150.8 786.1,145.1 787.0,139.3 787.8,133.4 788.7,127.5" fill="none" stroke="#5B9BD5" stroke-width="3.3" stroke-linejoin="round" stroke-linecap="round"/>
<polyline points="101.9,552.4 110.5,552.3 119.1,552.0 127.7,551.9 136.2,551.7 144.8,551.6 153.4,551.6 162.0,551.5 170.6,551.5 179.2,551.4 187.8,551.4 196.3,551.4 204.9,551.4 213.5,551.4 222.1,551.4 230.7,551.4 239.3,551.4 247.8,551.4 256.4,551.4 265.0,551.3 273.6,551.3 282.2,551.2 290.8,551.1 299.4,550.9 307.9,550.7 316.5,550.5 325.1,550.3 333.7,550.0 342.3,549.6 350.9,549.2 359.5,548.8 368.0,548.3 376.6,547.7 385.2,547.1 393.8,546.4 402.4,545.7 411.0,544.8 419.5,543.9 428.1,542.9 436.7,541.8 445.3,540.7 453.9,539.4 462.5,538.1 471.1,536.6 479.6,535.0 488.2,533.3 496.8,531.6 505.4,529.7 514.0,527.7 522.6,525.7 531.1,523.6 532.0,523.4 532.9,523.2 533.7,523.0 534.6,522.8 535.4,522.6 536.3,522.3 537.2,522.1 538.0,521.9 538.9,521.7 539.7,521.5 540.6,521.3 541.5,521.1 542.3,520.8 543.2,520.6 544.0,520.4 544.9,520.2 545.7,520.0 546.6,519.8 547.5,519.6 548.3,519.3 549.2,519.1 550.0,518.9 550.9,518.7 551.8,518.5 552.6,518.3 553.5,518.0 554.3,517.8 555.2,517.6 556.0,517.4 556.9,517.2 557.8,517.0 558.6,516.7 559.5,516.5 560.3,516.3 561.2,516.1 562.1,515.9 562.9,515.6 563.8,515.4 564.6,515.2 565.5,515.0 566.3,514.8 567.2,514.6 568.1,514.3 568.9,514.1 569.8,513.9 570.6,513.7 571.5,513.5 572.4,513.3 573.2,513.0 574.1,512.8 574.9,512.6 575.8,512.4 576.7,512.2 577.5,512.0 578.4,511.8 579.2,511.5 580.1,511.3 580.9,511.1 581.8,510.9 582.7,510.7 583.5,510.5 584.4,510.3 585.2,510.0 586.1,509.8 587.0,509.6 587.8,509.4 588.7,509.2 589.5,509.0 590.4,508.8 591.2,508.5 592.1,508.3 593.0,508.1 593.8,507.9 594.7,507.7 595.5,507.5 596.4,507.3 597.3,507.0 598.1,506.8 599.0,506.6 599.8,506.4 600.7,506.2 601.5,505.9 602.4,505.7 603.3,505.5 604.1,505.3 605.0,505.1 605.8,504.8 606.7,504.6 607.6,504.4 608.4,504.2 609.3,503.9 610.1,503.7 611.0,503.5 611.8,503.3 612.7,503.0 613.6,502.8 614.4,502.6 615.3,502.3 616.1,502.1 617.0,501.9 617.9,501.6 618.7,501.4 619.6,501.2 620.4,500.9 621.3,500.7 622.2,500.4 623.0,500.2 623.9,500.0 624.7,499.7 625.6,499.5 626.4,499.2 627.3,499.0 628.2,498.7 629.0,498.4 629.9,498.2 630.7,497.9 631.6,497.7 632.5,497.4 633.3,497.1 634.2,496.9 635.0,496.6 635.9,496.3 636.7,496.1 637.6,495.8 638.5,495.5 639.3,495.2 640.2,495.0 641.0,494.7 641.9,494.4 642.8,494.1 643.6,493.8 644.5,493.5 645.3,493.2 646.2,492.9 647.0,492.6 647.9,492.3 648.8,492.0 649.6,491.7 650.5,491.3 651.3,491.0 652.2,490.7 653.1,490.4 653.9,490.0 654.8,489.7 655.6,489.4 656.5,489.0 657.3,488.7 658.2,488.3 659.1,488.0 659.9,487.6 660.8,487.3 661.6,486.9 662.5,486.5 663.4,486.1 664.2,485.8 665.1,485.4 665.9,485.0 666.8,484.6 667.7,484.2 668.5,483.7 669.4,483.3 670.2,482.9 671.1,482.5 671.9,482.0 672.8,481.6 673.7,481.1 674.5,480.6 675.4,480.2 676.2,479.7 677.1,479.2 678.0,478.7 678.8,478.2 679.7,477.6 680.5,477.1 681.4,476.5 682.2,476.0 683.1,475.4 684.0,474.8 684.8,474.2 685.7,473.6 686.5,473.0 687.4,472.3 688.3,471.7 689.1,471.0 690.0,470.3 690.8,469.6 691.7,468.8 692.5,468.1 693.4,467.3 694.3,466.5 695.1,465.7 696.0,464.9 696.8,464.0 697.7,463.1 698.6,462.2 699.4,461.3 700.3,460.4 701.1,459.4 702.0,458.4 702.9,457.4 703.7,456.4 704.6,455.3 705.4,454.2 706.3,453.1 707.1,451.9 708.0,450.8 708.9,449.5 709.7,448.3 710.6,447.0 711.4,445.7 712.3,444.4 713.2,443.0 714.0,441.7 714.9,440.2 715.7,438.8 716.6,437.3 717.4,435.8 718.3,434.2 719.2,432.6 720.0,431.0 720.9,429.3 721.7,427.7 722.6,425.9 723.5,424.2 724.3,422.4 725.2,420.5 726.0,418.7 726.9,416.8 727.7,414.8 728.6,412.8 729.5,410.8 730.3,408.7 731.2,406.6 732.0,404.5 732.9,402.2 733.8,400.0 734.6,397.7 735.5,395.3 736.3,392.9 737.2,390.5 738.0,387.9 738.9,385.4 739.8,382.7 740.6,380.0 741.5,377.3 742.3,374.5 743.2,371.6 744.1,368.7 744.9,365.7 745.8,362.6 746.6,359.5 747.5,356.3 748.4,353.0 749.2,349.7 750.1,346.3 750.9,342.9 751.8,339.4 752.6,335.8 753.5,332.1 754.4,328.4 755.2,324.7 756.1,320.8 756.9,316.9 757.8,312.9 758.7,308.8 759.5,304.6 760.4,300.4 761.2,296.0 762.1,291.6 762.9,287.0 763.8,282.4 764.7,277.6 765.5,272.7 766.4,267.7 767.2,262.6 768.1,257.4 769.0,252.0 769.8,246.5 770.7,240.8 771.5,235.0 772.4,229.1 773.2,223.0 774.1,216.7 775.0,210.3 775.8,203.8 776.7,197.0 777.5,190.1 778.4,183.0 779.3,175.6 780.1,168.1 781.0,160.5 781.8,152.7 782.7,144.7 783.5,136.7 784.4,128.5 785.3,120.3 786.1,112.0 787.0,103.7 787.8,95.4 788.7,87.3" fill="none" stroke="#F07010" stroke-width="3.3" stroke-linejoin="round" stroke-linecap="round"/>
<polyline points="101.9,552.4 110.5,552.3 119.1,552.1 127.7,551.9 136.2,551.8 144.8,551.7 153.4,551.6 162.0,551.5 170.6,551.5 179.2,551.5 187.8,551.5 196.3,551.5 204.9,551.5 213.5,551.5 222.1,551.5 230.7,551.5 239.3,551.5 247.8,551.4 256.4,551.4 265.0,551.4 273.6,551.3 282.2,551.2 290.8,551.1 299.4,551.0 307.9,550.8 316.5,550.6 325.1,550.4 333.7,550.1 342.3,549.8 350.9,549.4 359.5,549.0 368.0,548.5 376.6,548.0 385.2,547.4 393.8,546.8 402.4,546.1 411.0,545.3 419.5,544.5 428.1,543.6 436.7,542.6 445.3,541.5 453.9,540.3 462.5,539.1 471.1,537.8 479.6,536.3 488.2,534.8 496.8,533.1 505.4,531.4 514.0,529.6 522.6,527.8 531.1,525.8 532.0,525.6 532.9,525.5 533.7,525.3 534.6,525.1 535.4,524.9 536.3,524.7 537.2,524.5 538.0,524.3 538.9,524.1 539.7,523.9 540.6,523.7 541.5,523.5 542.3,523.3 543.2,523.1 544.0,522.9 544.9,522.7 545.7,522.5 546.6,522.3 547.5,522.1 548.3,521.9 549.2,521.7 550.0,521.5 550.9,521.3 551.8,521.1 552.6,520.9 553.5,520.7 554.3,520.5 555.2,520.3 556.0,520.1 556.9,519.9 557.8,519.7 558.6,519.5 559.5,519.3 560.3,519.0 561.2,518.8 562.1,518.6 562.9,518.4 563.8,518.2 564.6,518.0 565.5,517.8 566.3,517.6 567.2,517.4 568.1,517.2 568.9,517.0 569.8,516.8 570.6,516.6 571.5,516.4 572.4,516.2 573.2,516.0 574.1,515.8 574.9,515.6 575.8,515.4 576.7,515.2 577.5,515.0 578.4,514.8 579.2,514.6 580.1,514.4 580.9,514.2 581.8,514.0 582.7,513.8 583.5,513.6 584.4,513.4 585.2,513.1 586.1,512.9 587.0,512.7 587.8,512.5 588.7,512.3 589.5,512.1 590.4,511.9 591.2,511.7 592.1,511.5 593.0,511.3 593.8,511.1 594.7,510.9 595.5,510.7 596.4,510.5 597.3,510.3 598.1,510.1 599.0,509.9 599.8,509.7 600.7,509.4 601.5,509.2 602.4,509.0 603.3,508.8 604.1,508.6 605.0,508.4 605.8,508.2 606.7,508.0 607.6,507.8 608.4,507.5 609.3,507.3 610.1,507.1 611.0,506.9 611.8,506.7 612.7,506.5 613.6,506.3 614.4,506.0 615.3,505.8 616.1,505.6 617.0,505.4 617.9,505.2 618.7,504.9 619.6,504.7 620.4,504.5 621.3,504.3 622.2,504.1 623.0,503.8 623.9,503.6 624.7,503.4 625.6,503.1 626.4,502.9 627.3,502.7 628.2,502.5 629.0,502.2 629.9,502.0 630.7,501.7 631.6,501.5 632.5,501.3 633.3,501.0 634.2,500.8 635.0,500.5 635.9,500.3 636.7,500.1 637.6,499.8 638.5,499.6 639.3,499.3 640.2,499.1 641.0,498.8 641.9,498.5 642.8,498.3 643.6,498.0 644.5,497.8 645.3,497.5 646.2,497.2 647.0,497.0 647.9,496.7 648.8,496.4 649.6,496.2 650.5,495.9 651.3,495.6 652.2,495.3 653.1,495.0 653.9,494.7 654.8,494.5 655.6,494.2 656.5,493.9 657.3,493.6 658.2,493.3 659.1,493.0 659.9,492.7 660.8,492.3 661.6,492.0 662.5,491.7 663.4,491.4 664.2,491.1 665.1,490.7 665.9,490.4 666.8,490.0 667.7,489.7 668.5,489.3 669.4,489.0 670.2,488.6 671.1,488.2 671.9,487.9 672.8,487.5 673.7,487.1 674.5,486.7 675.4,486.3 676.2,485.8 677.1,485.4 678.0,485.0 678.8,484.5 679.7,484.1 680.5,483.6 681.4,483.1 682.2,482.6 683.1,482.1 684.0,481.6 684.8,481.1 685.7,480.6 686.5,480.0 687.4,479.4 688.3,478.8 689.1,478.2 690.0,477.6 690.8,477.0 691.7,476.3 692.5,475.7 693.4,475.0 694.3,474.2 695.1,473.5 696.0,472.8 696.8,472.0 697.7,471.2 698.6,470.4 699.4,469.5 700.3,468.7 701.1,467.8 702.0,466.9 702.9,466.0 703.7,465.0 704.6,464.0 705.4,463.0 706.3,462.0 707.1,460.9 708.0,459.8 708.9,458.7 709.7,457.5 710.6,456.3 711.4,455.1 712.3,453.8 713.2,452.5 714.0,451.2 714.9,449.9 715.7,448.5 716.6,447.1 717.4,445.6 718.3,444.1 719.2,442.6 720.0,441.0 720.9,439.5 721.7,437.8 722.6,436.2 723.5,434.5 724.3,432.8 725.2,431.0 726.0,429.2 726.9,427.4 727.7,425.5 728.6,423.6 729.5,421.6 730.3,419.6 731.2,417.6 732.0,415.5 732.9,413.4 733.8,411.2 734.6,409.0 735.5,406.8 736.3,404.4 737.2,402.1 738.0,399.7 738.9,397.2 739.8,394.7 740.6,392.2 741.5,389.6 742.3,386.9 743.2,384.2 744.1,381.4 744.9,378.6 745.8,375.7 746.6,372.8 747.5,369.8 748.4,366.7 749.2,363.6 750.1,360.4 750.9,357.2 751.8,353.9 752.6,350.6 753.5,347.2 754.4,343.7 755.2,340.2 756.1,336.6 756.9,333.0 757.8,329.3 758.7,325.5 759.5,321.6 760.4,317.6 761.2,313.6 762.1,309.4 762.9,305.2 763.8,300.9 764.7,296.5 765.5,291.9 766.4,287.3 767.2,282.5 768.1,277.7 769.0,272.7 769.8,267.5 770.7,262.2 771.5,256.8 772.4,251.3 773.2,245.6 774.1,239.7 775.0,233.7 775.8,227.6 776.7,221.2 777.5,214.3 778.4,207.2 779.3,199.6 780.1,191.7 781.0,183.5 781.8,175.0 782.7,166.3 783.5,157.3 784.4,148.1 785.3,138.7 786.1,129.3 787.0,119.7 787.8,110.1 788.7,100.7" fill="none" stroke="#44546A" stroke-width="3.3" stroke-linejoin="round" stroke-linecap="round"/>
<polyline points="101.9,552.4 110.5,552.3 119.1,552.0 127.7,551.9 136.2,551.7 144.8,551.6 153.4,551.5 162.0,551.5 170.6,551.4 179.2,551.4 187.8,551.4 196.3,551.4 204.9,551.4 213.5,551.4 222.1,551.4 230.7,551.4 239.3,551.4 247.8,551.4 256.4,551.4 265.0,551.3 273.6,551.2 282.2,551.2 290.8,551.0 299.4,550.9 307.9,550.7 316.5,550.5 325.1,550.2 333.7,549.9 342.3,549.6 350.9,549.2 359.5,548.7 368.0,548.2 376.6,547.6 385.2,547.0 393.8,546.2 402.4,545.5 411.0,544.6 419.5,543.6 428.1,542.6 436.7,541.5 445.3,540.3 453.9,538.9 462.5,537.5 471.1,536.0 479.6,534.4 488.2,532.6 496.8,530.8 505.4,528.8 514.0,526.8 522.6,524.7 531.1,522.5 532.0,522.3 532.9,522.1 533.7,521.8 534.6,521.6 535.4,521.4 536.3,521.2 537.2,521.0 538.0,520.7 538.9,520.5 539.7,520.3 540.6,520.1 541.5,519.9 542.3,519.6 543.2,519.4 544.0,519.2 544.9,519.0 545.7,518.7 546.6,518.5 547.5,518.3 548.3,518.1 549.2,517.8 550.0,517.6 550.9,517.4 551.8,517.2 552.6,516.9 553.5,516.7 554.3,516.5 555.2,516.3 556.0,516.0 556.9,515.8 557.8,515.6 558.6,515.4 559.5,515.1 560.3,514.9 561.2,514.7 562.1,514.5 562.9,514.3 563.8,514.0 564.6,513.8 565.5,513.6 566.3,513.4 567.2,513.1 568.1,512.9 568.9,512.7 569.8,512.5 570.6,512.2 571.5,512.0 572.4,511.8 573.2,511.6 574.1,511.3 574.9,511.1 575.8,510.9 576.7,510.7 577.5,510.5 578.4,510.2 579.2,510.0 580.1,509.8 580.9,509.6 581.8,509.4 582.7,509.1 583.5,508.9 584.4,508.7 585.2,508.5 586.1,508.3 587.0,508.1 587.8,507.8 588.7,507.6 589.5,507.4 590.4,507.2 591.2,507.0 592.1,506.7 593.0,506.5 593.8,506.3 594.7,506.1 595.5,505.9 596.4,505.6 597.3,505.4 598.1,505.2 599.0,505.0 599.8,504.7 600.7,504.5 601.5,504.3 602.4,504.1 603.3,503.8 604.1,503.6 605.0,503.4 605.8,503.2 606.7,502.9 607.6,502.7 608.4,502.5 609.3,502.2 610.1,502.0 611.0,501.8 611.8,501.5 612.7,501.3 613.6,501.1 614.4,500.8 615.3,500.6 616.1,500.4 617.0,500.1 617.9,499.9 618.7,499.6 619.6,499.4 620.4,499.1 621.3,498.9 622.2,498.6 623.0,498.4 623.9,498.1 624.7,497.9 625.6,497.6 626.4,497.4 627.3,497.1 628.2,496.8 629.0,496.6 629.9,496.3 630.7,496.0 631.6,495.8 632.5,495.5 633.3,495.2 634.2,494.9 635.0,494.6 635.9,494.4 636.7,494.1 637.6,493.8 638.5,493.5 639.3,493.2 640.2,492.9 641.0,492.6 641.9,492.3 642.8,492.0 643.6,491.7 644.5,491.4 645.3,491.1 646.2,490.7 647.0,490.4 647.9,490.1 648.8,489.8 649.6,489.4 650.5,489.1 651.3,488.7 652.2,488.4 653.1,488.1 653.9,487.7 654.8,487.3 655.6,487.0 656.5,486.6 657.3,486.3 658.2,485.9 659.1,485.5 659.9,485.1 660.8,484.7 661.6,484.3 662.5,483.9 663.4,483.5 664.2,483.1 665.1,482.7 665.9,482.3 666.8,481.8 667.7,481.4 668.5,481.0 669.4,480.5 670.2,480.0 671.1,479.6 671.9,479.1 672.8,478.6 673.7,478.1 674.5,477.6 675.4,477.1 676.2,476.6 677.1,476.1 678.0,475.5 678.8,475.0 679.7,474.4 680.5,473.8 681.4,473.2 682.2,472.6 683.1,472.0 684.0,471.4 684.8,470.8 685.7,470.1 686.5,469.4 687.4,468.8 688.3,468.1 689.1,467.3 690.0,466.6 690.8,465.9 691.7,465.1 692.5,464.3 693.4,463.5 694.3,462.6 695.1,461.8 696.0,460.9 696.8,460.0 697.7,459.1 698.6,458.2 699.4,457.2 700.3,456.2 701.1,455.2 702.0,454.2 702.9,453.1 703.7,452.0 704.6,450.9 705.4,449.8 706.3,448.6 707.1,447.4 708.0,446.2 708.9,445.0 709.7,443.7 710.6,442.4 711.4,441.1 712.3,439.7 713.2,438.3 714.0,436.9 714.9,435.4 715.7,433.9 716.6,432.4 717.4,430.8 718.3,429.2 719.2,427.6 720.0,426.0 720.9,424.3 721.7,422.6 722.6,420.8 723.5,419.0 724.3,417.2 725.2,415.3 726.0,413.4 726.9,411.5 727.7,409.5 728.6,407.5 729.5,405.4 730.3,403.3 731.2,401.1 732.0,398.9 732.9,396.7 733.8,394.4 734.6,392.0 735.5,389.6 736.3,387.2 737.2,384.6 738.0,382.1 738.9,379.4 739.8,376.7 740.6,374.0 741.5,371.2 742.3,368.3 743.2,365.3 744.1,362.3 744.9,359.2 745.8,356.1 746.6,352.9 747.5,349.6 748.4,346.2 749.2,342.8 750.1,339.3 750.9,335.7 751.8,332.1 752.6,328.4 753.5,324.6 754.4,320.8 755.2,316.9 756.1,312.9 756.9,308.8 757.8,304.7 758.7,300.5 759.5,296.2 760.4,291.7 761.2,287.2 762.1,282.6 762.9,277.9 763.8,273.1 764.7,268.2 765.5,263.1 766.4,257.9 767.2,252.7 768.1,247.2 769.0,241.7 769.8,236.0 770.7,230.1 771.5,224.1 772.4,218.0 773.2,211.7 774.1,205.2 775.0,198.6 775.8,191.9 776.7,184.9 777.5,177.8 778.4,170.5 779.3,163.1 780.1,155.5 781.0,147.7 781.8,139.9 782.7,131.9 783.5,123.8 784.4,115.7 785.3,107.5 786.1,99.3 787.0,91.1 787.8,82.9 788.7,75.0" fill="none" stroke="#CCCC00" stroke-width="3.3" stroke-linejoin="round" stroke-linecap="round"/>
<polyline points="101.9,552.4 110.5,552.3 119.1,552.0 127.7,551.8 136.2,551.7 144.8,551.6 153.4,551.5 162.0,551.4 170.6,551.4 179.2,551.4 187.8,551.4 196.3,551.4 204.9,551.4 213.5,551.4 222.1,551.4 230.7,551.4 239.3,551.4 247.8,551.4 256.4,551.3 265.0,551.3 273.6,551.2 282.2,551.1 290.8,551.0 299.4,550.9 307.9,550.7 316.5,550.5 325.1,550.2 333.7,549.9 342.3,549.5 350.9,549.1 359.5,548.6 368.0,548.1 376.6,547.5 385.2,546.8 393.8,546.1 402.4,545.2 411.0,544.3 419.5,543.4 428.1,542.3 436.7,541.1 445.3,539.8 453.9,538.5 462.5,537.0 471.1,535.4 479.6,533.7 488.2,531.9 496.8,530.0 505.4,527.9 514.0,525.8 522.6,523.6 531.1,521.4 532.0,521.2 532.9,520.9 533.7,520.7 534.6,520.5 535.4,520.3 536.3,520.0 537.2,519.8 538.0,519.6 538.9,519.3 539.7,519.1 540.6,518.9 541.5,518.6 542.3,518.4 543.2,518.2 544.0,518.0 544.9,517.7 545.7,517.5 546.6,517.3 547.5,517.0 548.3,516.8 549.2,516.6 550.0,516.3 550.9,516.1 551.8,515.9 552.6,515.6 553.5,515.4 554.3,515.2 555.2,514.9 556.0,514.7 556.9,514.5 557.8,514.2 558.6,514.0 559.5,513.8 560.3,513.5 561.2,513.3 562.1,513.1 562.9,512.9 563.8,512.6 564.6,512.4 565.5,512.2 566.3,511.9 567.2,511.7 568.1,511.5 568.9,511.2 569.8,511.0 570.6,510.8 571.5,510.6 572.4,510.3 573.2,510.1 574.1,509.9 574.9,509.6 575.8,509.4 576.7,509.2 577.5,509.0 578.4,508.7 579.2,508.5 580.1,508.3 580.9,508.1 581.8,507.8 582.7,507.6 583.5,507.4 584.4,507.2 585.2,506.9 586.1,506.7 587.0,506.5 587.8,506.3 588.7,506.0 589.5,505.8 590.4,505.6 591.2,505.4 592.1,505.1 593.0,504.9 593.8,504.7 594.7,504.5 595.5,504.2 596.4,504.0 597.3,503.8 598.1,503.6 599.0,503.3 599.8,503.1 600.7,502.9 601.5,502.7 602.4,502.4 603.3,502.2 604.1,502.0 605.0,501.7 605.8,501.5 606.7,501.3 607.6,501.0 608.4,500.8 609.3,500.6 610.1,500.3 611.0,500.1 611.8,499.8 612.7,499.6 613.6,499.3 614.4,499.1 615.3,498.9 616.1,498.6 617.0,498.4 617.9,498.1 618.7,497.9 619.6,497.6 620.4,497.3 621.3,497.1 622.2,496.8 623.0,496.6 623.9,496.3 624.7,496.0 625.6,495.8 626.4,495.5 627.3,495.2 628.2,495.0 629.0,494.7 629.9,494.4 630.7,494.1 631.6,493.8 632.5,493.5 633.3,493.3 634.2,493.0 635.0,492.7 635.9,492.4 636.7,492.1 637.6,491.8 638.5,491.5 639.3,491.2 640.2,490.8 641.0,490.5 641.9,490.2 642.8,489.9 643.6,489.6 644.5,489.2 645.3,488.9 646.2,488.6 647.0,488.2 647.9,487.9 648.8,487.5 649.6,487.2 650.5,486.8 651.3,486.5 652.2,486.1 653.1,485.7 653.9,485.4 654.8,485.0 655.6,484.6 656.5,484.2 657.3,483.8 658.2,483.4 659.1,483.0 659.9,482.6 660.8,482.2 661.6,481.8 662.5,481.3 663.4,480.9 664.2,480.5 665.1,480.0 665.9,479.6 666.8,479.1 667.7,478.6 668.5,478.2 669.4,477.7 670.2,477.2 671.1,476.7 671.9,476.2 672.8,475.7 673.7,475.1 674.5,474.6 675.4,474.1 676.2,473.5 677.1,472.9 678.0,472.4 678.8,471.8 679.7,471.2 680.5,470.6 681.4,469.9 682.2,469.3 683.1,468.7 684.0,468.0 684.8,467.3 685.7,466.6 686.5,465.9 687.4,465.2 688.3,464.5 689.1,463.7 690.0,462.9 690.8,462.1 691.7,461.3 692.5,460.5 693.4,459.6 694.3,458.8 695.1,457.9 696.0,457.0 696.8,456.0 697.7,455.1 698.6,454.1 699.4,453.1 700.3,452.1 701.1,451.0 702.0,449.9 702.9,448.8 703.7,447.7 704.6,446.6 705.4,445.4 706.3,444.2 707.1,443.0 708.0,441.7 708.9,440.4 709.7,439.1 710.6,437.8 711.4,436.4 712.3,435.0 713.2,433.5 714.0,432.1 714.9,430.6 715.7,429.1 716.6,427.5 717.4,425.9 718.3,424.3 719.2,422.6 720.0,420.9 720.9,419.2 721.7,417.5 722.6,415.7 723.5,413.8 724.3,412.0 725.2,410.1 726.0,408.2 726.9,406.2 727.7,404.2 728.6,402.1 729.5,400.0 730.3,397.8 731.2,395.6 732.0,393.4 732.9,391.1 733.8,388.8 734.6,386.4 735.5,383.9 736.3,381.4 737.2,378.8 738.0,376.2 738.9,373.5 739.8,370.7 740.6,367.9 741.5,365.0 742.3,362.1 743.2,359.1 744.1,356.0 744.9,352.8 745.8,349.5 746.6,346.2 747.5,342.8 748.4,339.4 749.2,335.8 750.1,332.2 750.9,328.5 751.8,324.8 752.6,321.0 753.5,317.1 754.4,313.1 755.2,309.1 756.1,305.0 756.9,300.8 757.8,296.5 758.7,292.1 759.5,287.6 760.4,283.1 761.2,278.4 762.1,273.6 762.9,268.8 763.8,263.8 764.7,258.7 765.5,253.4 766.4,248.1 767.2,242.6 768.1,237.0 769.0,231.2 769.8,225.4 770.7,219.3 771.5,213.1 772.4,206.8 773.2,200.3 774.1,193.7 775.0,186.9 775.8,180.0 776.7,172.9 777.5,165.7 778.4,158.4 779.3,151.0 780.1,143.4 781.0,135.8 781.8,128.2 782.7,120.4 783.5,112.7 784.4,104.9 785.3,97.1 786.1,89.3 787.0,81.5 787.8,73.7 788.7,66.3" fill="none" stroke="#C8C8C8" stroke-width="3.3" stroke-linejoin="round" stroke-linecap="round"/>
<polyline points="101.9,552.4 110.5,552.3 119.1,552.1 127.7,551.9 136.2,551.8 144.8,551.7 153.4,551.7 162.0,551.6 170.6,551.6 179.2,551.5 187.8,551.5 196.3,551.5 204.9,551.5 213.5,551.5 222.1,551.5 230.7,551.5 239.3,551.5 247.8,551.5 256.4,551.4 265.0,551.4 273.6,551.3 282.2,551.2 290.8,551.1 299.4,551.0 307.9,550.9 316.5,550.7 325.1,550.4 333.7,550.2 342.3,549.9 350.9,549.6 359.5,549.2 368.0,548.8 376.6,548.3 385.2,547.8 393.8,547.2 402.4,546.5 411.0,545.8 419.5,545.1 428.1,544.3 436.7,543.3 445.3,542.4 453.9,541.3 462.5,540.2 471.1,539.0 479.6,537.7 488.2,536.3 496.8,534.8 505.4,533.3 514.0,531.6 522.6,529.9 531.1,528.2 532.0,528.0 532.9,527.8 533.7,527.7 534.6,527.5 535.4,527.3 536.3,527.1 537.2,526.9 538.0,526.8 538.9,526.6 539.7,526.4 540.6,526.2 541.5,526.0 542.3,525.9 543.2,525.7 544.0,525.5 544.9,525.3 545.7,525.1 546.6,524.9 547.5,524.8 548.3,524.6 549.2,524.4 550.0,524.2 550.9,524.0 551.8,523.8 552.6,523.6 553.5,523.5 554.3,523.3 555.2,523.1 556.0,522.9 556.9,522.7 557.8,522.5 558.6,522.3 559.5,522.1 560.3,521.9 561.2,521.8 562.1,521.6 562.9,521.4 563.8,521.2 564.6,521.0 565.5,520.8 566.3,520.6 567.2,520.4 568.1,520.2 568.9,520.1 569.8,519.9 570.6,519.7 571.5,519.5 572.4,519.3 573.2,519.1 574.1,518.9 574.9,518.7 575.8,518.5 576.7,518.3 577.5,518.1 578.4,518.0 579.2,517.8 580.1,517.6 580.9,517.4 581.8,517.2 582.7,517.0 583.5,516.8 584.4,516.6 585.2,516.4 586.1,516.2 587.0,516.0 587.8,515.9 588.7,515.7 589.5,515.5 590.4,515.3 591.2,515.1 592.1,514.9 593.0,514.7 593.8,514.5 594.7,514.3 595.5,514.1 596.4,513.9 597.3,513.7 598.1,513.5 599.0,513.3 599.8,513.1 600.7,512.9 601.5,512.7 602.4,512.5 603.3,512.3 604.1,512.1 605.0,511.9 605.8,511.7 606.7,511.5 607.6,511.3 608.4,511.1 609.3,510.9 610.1,510.7 611.0,510.5 611.8,510.3 612.7,510.1 613.6,509.9 614.4,509.7 615.3,509.5 616.1,509.3 617.0,509.1 617.9,508.9 618.7,508.7 619.6,508.5 620.4,508.3 621.3,508.1 622.2,507.9 623.0,507.7 623.9,507.5 624.7,507.2 625.6,507.0 626.4,506.8 627.3,506.6 628.2,506.4 629.0,506.2 629.9,506.0 630.7,505.8 631.6,505.6 632.5,505.4 633.3,505.1 634.2,504.9 635.0,504.7 635.9,504.5 636.7,504.3 637.6,504.1 638.5,503.8 639.3,503.6 640.2,503.4 641.0,503.2 641.9,502.9 642.8,502.7 643.6,502.5 644.5,502.3 645.3,502.0 646.2,501.8 647.0,501.6 647.9,501.4 648.8,501.1 649.6,500.9 650.5,500.7 651.3,500.4 652.2,500.2 653.1,499.9 653.9,499.7 654.8,499.5 655.6,499.2 656.5,499.0 657.3,498.7 658.2,498.5 659.1,498.2 659.9,498.0 660.8,497.7 661.6,497.4 662.5,497.2 663.4,496.9 664.2,496.6 665.1,496.4 665.9,496.1 666.8,495.8 667.7,495.5 668.5,495.2 669.4,494.9 670.2,494.6 671.1,494.3 671.9,494.0 672.8,493.7 673.7,493.4 674.5,493.0 675.4,492.7 676.2,492.4 677.1,492.0 678.0,491.6 678.8,491.3 679.7,490.9 680.5,490.5 681.4,490.1 682.2,489.7 683.1,489.2 684.0,488.8 684.8,488.4 685.7,487.9 686.5,487.4 687.4,486.9 688.3,486.4 689.1,485.9 690.0,485.4 690.8,484.8 691.7,484.2 692.5,483.7 693.4,483.0 694.3,482.4 695.1,481.8 696.0,481.1 696.8,480.4 697.7,479.7 698.6,479.0 699.4,478.2 700.3,477.5 701.1,476.7 702.0,475.8 702.9,475.0 703.7,474.1 704.6,473.2 705.4,472.3 706.3,471.4 707.1,470.4 708.0,469.4 708.9,468.3 709.7,467.2 710.6,466.1 711.4,465.0 712.3,463.8 713.2,462.6 714.0,461.3 714.9,460.0 715.7,458.7 716.6,457.4 717.4,456.0 718.3,454.6 719.2,453.1 720.0,451.7 720.9,450.1 721.7,448.6 722.6,447.0 723.5,445.4 724.3,443.7 725.2,442.0 726.0,440.3 726.9,438.6 727.7,436.8 728.6,434.9 729.5,433.0 730.3,431.1 731.2,429.2 732.0,427.2 732.9,425.2 733.8,423.1 734.6,421.0 735.5,418.8 736.3,416.6 737.2,414.4 738.0,412.1 738.9,409.8 739.8,407.4 740.6,405.0 741.5,402.5 742.3,400.0 743.2,397.4 744.1,394.8 744.9,392.2 745.8,389.5 746.6,386.8 747.5,384.0 748.4,381.2 749.2,378.3 750.1,375.3 750.9,372.3 751.8,369.3 752.6,366.2 753.5,363.1 754.4,359.9 755.2,356.6 756.1,353.3 756.9,350.0 757.8,346.5 758.7,343.0 759.5,339.5 760.4,335.8 761.2,332.1 762.1,328.3 762.9,324.4 763.8,320.5 764.7,316.4 765.5,312.2 766.4,307.9 767.2,303.6 768.1,299.1 769.0,294.5 769.8,289.7 770.7,284.9 771.5,279.9 772.4,274.7 773.2,269.5 774.1,264.0 775.0,258.5 775.8,252.7 776.7,246.8 777.5,240.5 778.4,234.0 779.3,227.3 780.1,220.2 781.0,213.0 781.8,205.4 782.7,197.7 783.5,189.7 784.4,181.6 785.3,173.2 786.1,164.7 787.0,156.0 787.8,147.3 788.7,138.6" fill="none" stroke="#E0249F" stroke-width="3.3" stroke-linejoin="round" stroke-linecap="round"/>
<polyline points="101.9,552.4 110.5,552.3 119.1,552.0 127.7,551.8 136.2,551.7 144.8,551.6 153.4,551.5 162.0,551.4 170.6,551.4 179.2,551.3 187.8,551.3 196.3,551.3 204.9,551.3 213.5,551.3 222.1,551.4 230.7,551.4 239.3,551.4 247.8,551.4 256.4,551.3 265.0,551.3 273.6,551.2 282.2,551.1 290.8,551.0 299.4,550.8 307.9,550.6 316.5,550.4 325.1,550.1 333.7,549.8 342.3,549.4 350.9,549.0 359.5,548.5 368.0,548.0 376.6,547.3 385.2,546.6 393.8,545.9 402.4,545.0 411.0,544.1 419.5,543.1 428.1,542.0 436.7,540.7 445.3,539.4 453.9,538.0 462.5,536.5 471.1,534.8 479.6,533.1 488.2,531.2 496.8,529.2 505.4,527.1 514.0,524.9 522.6,522.6 531.1,520.3 532.0,520.0 532.9,519.8 533.7,519.6 534.6,519.3 535.4,519.1 536.3,518.9 537.2,518.6 538.0,518.4 538.9,518.1 539.7,517.9 540.6,517.7 541.5,517.4 542.3,517.2 543.2,517.0 544.0,516.7 544.9,516.5 545.7,516.2 546.6,516.0 547.5,515.8 548.3,515.5 549.2,515.3 550.0,515.0 550.9,514.8 551.8,514.6 552.6,514.3 553.5,514.1 554.3,513.8 555.2,513.6 556.0,513.4 556.9,513.1 557.8,512.9 558.6,512.7 559.5,512.4 560.3,512.2 561.2,511.9 562.1,511.7 562.9,511.5 563.8,511.2 564.6,511.0 565.5,510.7 566.3,510.5 567.2,510.3 568.1,510.0 568.9,509.8 569.8,509.6 570.6,509.3 571.5,509.1 572.4,508.9 573.2,508.6 574.1,508.4 574.9,508.2 575.8,507.9 576.7,507.7 577.5,507.5 578.4,507.2 579.2,507.0 580.1,506.8 580.9,506.5 581.8,506.3 582.7,506.1 583.5,505.8 584.4,505.6 585.2,505.4 586.1,505.2 587.0,504.9 587.8,504.7 588.7,504.5 589.5,504.2 590.4,504.0 591.2,503.8 592.1,503.6 593.0,503.3 593.8,503.1 594.7,502.9 595.5,502.6 596.4,502.4 597.3,502.2 598.1,501.9 599.0,501.7 599.8,501.5 600.7,501.2 601.5,501.0 602.4,500.8 603.3,500.5 604.1,500.3 605.0,500.1 605.8,499.8 606.7,499.6 607.6,499.3 608.4,499.1 609.3,498.9 610.1,498.6 611.0,498.4 611.8,498.1 612.7,497.9 613.6,497.6 614.4,497.4 615.3,497.1 616.1,496.9 617.0,496.6 617.9,496.3 618.7,496.1 619.6,495.8 620.4,495.6 621.3,495.3 622.2,495.0 623.0,494.8 623.9,494.5 624.7,494.2 625.6,493.9 626.4,493.6 627.3,493.4 628.2,493.1 629.0,492.8 629.9,492.5 630.7,492.2 631.6,491.9 632.5,491.6 633.3,491.3 634.2,491.0 635.0,490.7 635.9,490.4 636.7,490.1 637.6,489.8 638.5,489.4 639.3,489.1 640.2,488.8 641.0,488.5 641.9,488.1 642.8,487.8 643.6,487.4 644.5,487.1 645.3,486.8 646.2,486.4 647.0,486.0 647.9,485.7 648.8,485.3 649.6,484.9 650.5,484.6 651.3,484.2 652.2,483.8 653.1,483.4 653.9,483.0 654.8,482.6 655.6,482.2 656.5,481.8 657.3,481.4 658.2,480.9 659.1,480.5 659.9,480.1 660.8,479.6 661.6,479.2 662.5,478.7 663.4,478.3 664.2,477.8 665.1,477.3 665.9,476.9 666.8,476.4 667.7,475.9 668.5,475.4 669.4,474.8 670.2,474.3 671.1,473.8 671.9,473.3 672.8,472.7 673.7,472.2 674.5,471.6 675.4,471.0 676.2,470.4 677.1,469.8 678.0,469.2 678.8,468.6 679.7,468.0 680.5,467.3 681.4,466.7 682.2,466.0 683.1,465.3 684.0,464.6 684.8,463.9 685.7,463.2 686.5,462.4 687.4,461.7 688.3,460.9 689.1,460.1 690.0,459.3 690.8,458.4 691.7,457.6 692.5,456.7 693.4,455.8 694.3,454.9 695.1,454.0 696.0,453.0 696.8,452.0 697.7,451.0 698.6,450.0 699.4,449.0 700.3,447.9 701.1,446.8 702.0,445.7 702.9,444.6 703.7,443.4 704.6,442.2 705.4,441.0 706.3,439.7 707.1,438.5 708.0,437.2 708.9,435.9 709.7,434.5 710.6,433.1 711.4,431.7 712.3,430.3 713.2,428.8 714.0,427.3 714.9,425.8 715.7,424.2 716.6,422.6 717.4,421.0 718.3,419.3 719.2,417.6 720.0,415.9 720.9,414.2 721.7,412.4 722.6,410.5 723.5,408.7 724.3,406.8 725.2,404.9 726.0,402.9 726.9,400.9 727.7,398.8 728.6,396.7 729.5,394.6 730.3,392.4 731.2,390.2 732.0,387.9 732.9,385.5 733.8,383.1 734.6,380.7 735.5,378.2 736.3,375.6 737.2,373.0 738.0,370.3 738.9,367.6 739.8,364.7 740.6,361.9 741.5,358.9 742.3,355.9 743.2,352.8 744.1,349.6 744.9,346.3 745.8,343.0 746.6,339.6 747.5,336.1 748.4,332.5 749.2,328.9 750.1,325.2 750.9,321.4 751.8,317.5 752.6,313.6 753.5,309.6 754.4,305.5 755.2,301.3 756.1,297.1 756.9,292.7 757.8,288.3 758.7,283.8 759.5,279.2 760.4,274.5 761.2,269.7 762.1,264.8 762.9,259.7 763.8,254.6 764.7,249.3 765.5,243.9 766.4,238.4 767.2,232.7 768.1,226.9 769.0,221.0 769.8,214.9 770.7,208.7 771.5,202.3 772.4,195.8 773.2,189.1 774.1,182.2 775.0,175.2 775.8,168.0 776.7,160.7 777.5,153.3 778.4,145.7 779.3,138.0 780.1,130.2 781.0,122.3 781.8,114.3 782.7,106.3 783.5,98.2 784.4,90.2 785.3,82.1 786.1,74.0 787.0,66.0 787.8,58.1 788.7,50.6" fill="none" stroke="#CC0099" stroke-width="3.3" stroke-linejoin="round" stroke-linecap="round"/>
<g font-family="Liberation Serif" font-size="26" fill="#000">
<text x="80.5" y="559.90" text-anchor="end">0</text>
<text x="80.5" y="429.22" text-anchor="end">50</text>
<text x="80.5" y="298.55" text-anchor="end">100</text>
<text x="80.5" y="167.87" text-anchor="end">150</text>
<text x="80.5" y="37.20" text-anchor="end">200</text>
<text x="101.90" y="592.4" text-anchor="middle">0</text>
<text x="273.60" y="592.4" text-anchor="middle">0.2</text>
<text x="445.30" y="592.4" text-anchor="middle">0.4</text>
<text x="617.00" y="592.4" text-anchor="middle">0.6</text>
<text x="788.70" y="592.4" text-anchor="middle">0.8</text>
<text transform="translate(960.6,592.4) scale(0.55,1)" text-anchor="middle">1</text>
</g>
<text font-family="Liberation Serif" font-size="30" x="502.8" y="622.7" text-anchor="middle">Voltage (V vs. Ag/AgCl)</text>
<text font-family="Liberation Serif" font-size="30" transform="translate(23.5,277) rotate(-90)" text-anchor="middle">Current (µA)</text>
<g font-family="Liberation Serif" font-size="21">
<line x1="817.5" y1="46.50" x2="858" y2="46.50" stroke="#70AD47" stroke-width="2.5" stroke-linecap="round"/>
<text x="863" y="53.70">10 mV/s</text>
<line x1="817.5" y1="77.63" x2="858" y2="77.63" stroke="#FFC000" stroke-width="2.5" stroke-linecap="round"/>
<text x="863" y="84.83">20 mV/s</text>
<line x1="817.5" y1="108.76" x2="858" y2="108.76" stroke="#4472C4" stroke-width="2.5" stroke-linecap="round"/>
<text x="863" y="115.96">30 mV/s</text>
<line x1="817.5" y1="139.89" x2="858" y2="139.89" stroke="#FF0000" stroke-width="2.5" stroke-linecap="round"/>
<text x="863" y="147.09">40 mV/s</text>
<line x1="817.5" y1="171.02" x2="858" y2="171.02" stroke="#000000" stroke-width="2.5" stroke-linecap="round"/>
<text x="863" y="178.22">50 mV/s</text>
<line x1="817.5" y1="202.15" x2="858" y2="202.15" stroke="#7030A0" stroke-width="2.5" stroke-linecap="round"/>
<text x="863" y="209.35">60 mV/s</text>
<line x1="817.5" y1="233.28" x2="858" y2="233.28" stroke="#BFBFBF" stroke-width="2.5" stroke-linecap="round"/>
<text x="863" y="240.48">70 mV/s</text>
<line x1="817.5" y1="264.41" x2="858" y2="264.41" stroke="#F060C8" stroke-width="2.5" stroke-linecap="round"/>
<text x="863" y="271.61">80 mV/s</text>
<line x1="817.5" y1="295.54" x2="858" y2="295.54" stroke="#ED7D31" stroke-width="2.5" stroke-linecap="round"/>
<text x="863" y="302.74">90 mV/s</text>
<line x1="817.5" y1="326.67" x2="858" y2="326.67" stroke="#2E75B6" stroke-width="2.5" stroke-linecap="round"/>
<text x="863" y="333.87">100 mV/s</text>
<line x1="817.5" y1="357.80" x2="858" y2="357.80" stroke="#5B9BD5" stroke-width="2.5" stroke-linecap="round"/>
<text x="863" y="365.00">125 mV/s</text>
<line x1="817.5" y1="388.93" x2="858" y2="388.93" stroke="#F07010" stroke-width="2.5" stroke-linecap="round"/>
<text x="863" y="396.13">150 mV/s</text>
<line x1="817.5" y1="420.06" x2="858" y2="420.06" stroke="#44546A" stroke-width="2.5" stroke-linecap="round"/>
<text x="863" y="427.26">175 mV/s</text>
<line x1="817.5" y1="451.19" x2="858" y2="451.19" stroke="#CCCC00" stroke-width="2.5" stroke-linecap="round"/>
<text x="863" y="458.39">200 mV/s</text>
<line x1="817.5" y1="482.32" x2="858" y2="482.32" stroke="#C8C8C8" stroke-width="2.5" stroke-linecap="round"/>
<text x="863" y="489.52">225 mV/s</text>
<line x1="817.5" y1="513.45" x2="858" y2="513.45" stroke="#CC0099" stroke-width="2.5" stroke-linecap="round"/>
<text x="863" y="520.65">250 mV/s</text>
</g>
<text font-family="Liberation Serif" font-size="26" font-weight="bold" x="654.5" y="64.4">250 mV/s</text>
<text font-family="Liberation Serif" font-size="26" font-weight="bold" x="654" y="259.5">10 mV/s</text>
<polygon points="698.6,84.9 710.2,96.5 704.9,96.5 704.9,207.1 692.9,207.1 692.9,96.5 687.3,96.5" fill="#FF0000"/>
<rect x="190.2" y="27.8" width="399.70" height="164.20" fill="#fff" stroke="#000" stroke-width="1.7"/>
<g font-family="Liberation Serif" font-size="20">
<text x="170.8" y="198.20" text-anchor="end">13</text>
<text x="170.8" y="165.36" text-anchor="end">15</text>
<text x="170.8" y="132.52" text-anchor="end">17</text>
<text x="170.8" y="99.68" text-anchor="end">19</text>
<text x="170.8" y="66.84" text-anchor="end">21</text>
<text x="170.8" y="34.00" text-anchor="end">23</text>
<text x="190.20" y="224.5" text-anchor="middle">0</text>
<text x="301.23" y="224.5" text-anchor="middle">5</text>
<text x="412.26" y="224.5" text-anchor="middle">10</text>
<text x="523.28" y="224.5" text-anchor="middle">15</text>
</g>
<text font-family="Liberation Serif" font-size="21.5" transform="translate(138.5,112.2) rotate(-90)" text-anchor="middle">Current (µA)</text>
<g font-family="Liberation Serif" font-size="26"><text x="296.5" y="254.4">√</text><text x="311" y="254.4" font-style="italic">ν</text><text x="338.5" y="254.4">(</text><text x="347" y="254.4">√</text><text x="363" y="254.4">(</text><text x="374" y="254.4" textLength="60.5" lengthAdjust="spacingAndGlyphs">mV/s</text><text x="437.5" y="254.4">)</text><text x="452.5" y="254.4">)</text></g>
<text font-family="Liberation Serif" font-size="25.4" x="217.7" y="65">y = 0.644x + 11.625</text>
<text font-family="Liberation Serif" font-size="25.4" x="259.6" y="95">R² = 0.9964</text>
<text font-family="Liberation Serif" font-size="25.5" font-weight="bold" x="546.2" y="180.2">(a)</text>
<circle cx="260.42" cy="179.36" r="7.3" fill="#FF0000"/>
<circle cx="289.51" cy="168.19" r="7.3" fill="#FF0000"/>
<circle cx="311.82" cy="159.16" r="7.3" fill="#FF0000"/>
<circle cx="347.22" cy="143.23" r="7.3" fill="#FF0000"/>
<circle cx="375.99" cy="130.43" r="7.3" fill="#FF0000"/>
<circle cx="388.81" cy="117.12" r="7.3" fill="#FF0000"/>
<circle cx="400.86" cy="116.47" r="7.3" fill="#FF0000"/>
<circle cx="412.26" cy="104.65" r="7.3" fill="#FF0000"/>
<circle cx="438.47" cy="94.96" r="7.3" fill="#FF0000"/>
<circle cx="462.16" cy="89.05" r="7.3" fill="#FF0000"/>
<circle cx="483.95" cy="75.09" r="7.3" fill="#FF0000"/>
<circle cx="504.23" cy="65.40" r="7.3" fill="#FF0000"/>
<circle cx="523.28" cy="55.71" r="7.3" fill="#FF0000"/>
<circle cx="541.30" cy="47.50" r="7.3" fill="#FF0000"/>
<line x1="260.42" y1="181.14" x2="541.30" y2="47.38" stroke="#000" stroke-width="2.8"/>
<rect x="184.9" y="294.0" width="402.00" height="140.20" fill="#fff" stroke="#000" stroke-width="1.7"/>
<g font-family="Liberation Serif" font-size="20">
<text x="167.5" y="440.40" text-anchor="end">10</text>
<text x="167.5" y="393.67" text-anchor="end">15</text>
<text x="167.5" y="346.93" text-anchor="end">20</text>
<text x="167.5" y="300.20" text-anchor="end">25</text>
<text x="185.1" y="467" text-anchor="middle">0</text>
<text x="319.5" y="467" text-anchor="middle">100</text>
<text x="452.6" y="467" text-anchor="middle">200</text>
<text x="586.4" y="467" text-anchor="middle">300</text>
</g>
<text font-family="Liberation Serif" font-size="21.5" transform="translate(136.5,375.5) rotate(-90)" text-anchor="middle">Current (µA)</text>
<text font-family="Liberation Serif" font-size="20.5" x="370.6" y="481.4" text-anchor="middle">ν (mV/s)</text>
<text font-family="Liberation Serif" font-size="25.4" x="347.1" y="393">y = 0.0324x + 14.364</text>
<text font-family="Liberation Serif" font-size="25.4" x="396.2" y="422">R² = 0.9514</text>
<text font-family="Liberation Serif" font-size="25.5" font-weight="bold" x="546.2" y="319.5">(b)</text>
<circle cx="198.34" cy="398.96" r="7.3" fill="#FF0000"/>
<circle cx="211.77" cy="392.61" r="7.3" fill="#FF0000"/>
<circle cx="225.21" cy="388.78" r="7.3" fill="#FF0000"/>
<circle cx="238.64" cy="389.34" r="7.3" fill="#FF0000"/>
<circle cx="252.08" cy="378.40" r="7.3" fill="#FF0000"/>
<circle cx="265.52" cy="366.44" r="7.3" fill="#FF0000"/>
<circle cx="278.95" cy="372.98" r="7.3" fill="#FF0000"/>
<circle cx="292.39" cy="363.54" r="7.3" fill="#FF0000"/>
<circle cx="305.82" cy="363.17" r="7.3" fill="#FF0000"/>
<circle cx="319.26" cy="356.90" r="7.3" fill="#FF0000"/>
<circle cx="352.85" cy="351.39" r="7.3" fill="#FF0000"/>
<circle cx="386.44" cy="347.28" r="7.3" fill="#FF0000"/>
<circle cx="420.03" cy="340.36" r="7.3" fill="#FF0000"/>
<circle cx="453.62" cy="334.66" r="7.3" fill="#FF0000"/>
<circle cx="487.21" cy="329.52" r="7.3" fill="#FF0000"/>
<circle cx="520.80" cy="325.78" r="7.3" fill="#FF0000"/>
<line x1="198.34" y1="390.38" x2="520.80" y2="317.70" stroke="#000" stroke-width="2.8"/>
</svg>
</body></html>
